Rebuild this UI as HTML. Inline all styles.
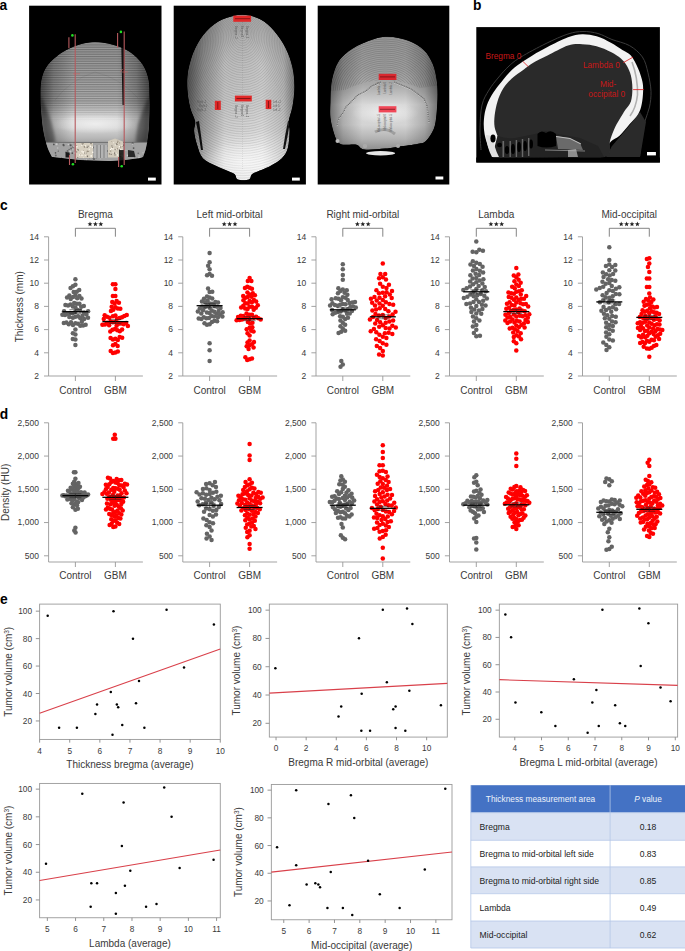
<!DOCTYPE html>
<html><head><meta charset="utf-8"><style>
html,body{margin:0;padding:0;background:#fff;overflow:hidden;}
svg{display:block;}
svg text{font-family:"Liberation Sans",sans-serif;}
</style></head><body>
<svg width="685" height="951" viewBox="0 0 685 951">
<defs>
<linearGradient id="a1v" x1="0" y1="0" x2="0" y2="1">
 <stop offset="0" stop-color="#8e8e8e"/><stop offset="0.3" stop-color="#9c9c9c"/><stop offset="0.5" stop-color="#aaaaaa"/>
 <stop offset="0.58" stop-color="#c4c4c4"/><stop offset="0.64" stop-color="#dcdcdc"/><stop offset="0.72" stop-color="#d6d6d6"/>
 <stop offset="0.8" stop-color="#bababa"/><stop offset="0.86" stop-color="#a0a0a0"/><stop offset="1" stop-color="#909090"/>
</linearGradient>
<linearGradient id="striFade" x1="0" y1="0" x2="0" y2="1">
 <stop offset="0" stop-color="#fff"/><stop offset="0.75" stop-color="#fff"/><stop offset="1" stop-color="#000"/>
</linearGradient>
<mask id="mStri"><rect x="38" y="40" width="114" height="82" fill="url(#striFade)"/></mask>
<linearGradient id="sideDark" x1="0" y1="0" x2="1" y2="0">
 <stop offset="0" stop-color="#000" stop-opacity="0.55"/><stop offset="0.12" stop-color="#000" stop-opacity="0.22"/>
 <stop offset="0.3" stop-color="#000" stop-opacity="0"/><stop offset="0.7" stop-color="#000" stop-opacity="0"/>
 <stop offset="0.88" stop-color="#000" stop-opacity="0.22"/><stop offset="1" stop-color="#000" stop-opacity="0.55"/>
</linearGradient>
<linearGradient id="sideDarkL" x1="0" y1="0" x2="1" y2="0">
 <stop offset="0" stop-color="#000" stop-opacity="0.6"/><stop offset="0.15" stop-color="#000" stop-opacity="0.3"/>
 <stop offset="0.35" stop-color="#000" stop-opacity="0.05"/><stop offset="0.7" stop-color="#000" stop-opacity="0"/>
 <stop offset="0.9" stop-color="#000" stop-opacity="0.12"/><stop offset="1" stop-color="#000" stop-opacity="0.4"/>
</linearGradient>
<linearGradient id="a2v" x1="0" y1="0" x2="0" y2="1">
 <stop offset="0" stop-color="#a8a8a8"/><stop offset="0.3" stop-color="#c4c4c4"/><stop offset="0.55" stop-color="#cecece"/>
 <stop offset="0.7" stop-color="#dadada"/><stop offset="0.8" stop-color="#ececec"/><stop offset="1" stop-color="#f6f6f6"/>
</linearGradient>
<linearGradient id="a3v" x1="0" y1="0" x2="0" y2="1">
 <stop offset="0" stop-color="#959595"/><stop offset="0.3" stop-color="#9e9e9e"/><stop offset="0.42" stop-color="#a8a8a8"/>
 <stop offset="0.5" stop-color="#bcbcbc"/><stop offset="0.6" stop-color="#d8d8d8"/><stop offset="0.78" stop-color="#d4d4d4"/>
 <stop offset="0.9" stop-color="#b4b4b4"/><stop offset="1" stop-color="#8e8e8e"/>
</linearGradient>
<radialGradient id="glow" cx="0.5" cy="0.5" r="0.5">
 <stop offset="0" stop-color="#fff" stop-opacity="0.55"/><stop offset="1" stop-color="#fff" stop-opacity="0"/>
</radialGradient>
<pattern id="stri" width="4" height="1.75" patternUnits="userSpaceOnUse">
 <rect width="4" height="0.7" fill="#000" fill-opacity="0.28"/><rect y="0.9" width="4" height="0.5" fill="#fff" fill-opacity="0.12"/>
</pattern>
<filter id="bl05" x="-20%" y="-20%" width="140%" height="140%"><feGaussianBlur stdDeviation="0.35"/></filter>
<filter id="bl1" x="-20%" y="-20%" width="140%" height="140%"><feGaussianBlur stdDeviation="0.6"/></filter>
<filter id="bl2" x="-20%" y="-20%" width="140%" height="140%"><feGaussianBlur stdDeviation="1.5"/></filter>
<filter id="bl4" x="-30%" y="-30%" width="160%" height="160%"><feGaussianBlur stdDeviation="4"/></filter>
<clipPath id="ca1"><path d="M52.0,157.0C51.4,155.8 49.6,152.7 48.5,150.0C47.4,147.3 46.5,144.7 45.5,141.0C44.5,137.3 43.5,132.8 42.8,128.0C42.1,123.2 41.6,117.1 41.2,112.0C40.8,106.9 40.6,102.7 40.6,97.4C40.6,92.1 40.4,85.4 41.5,80.1C42.6,74.8 44.1,70.1 47.5,65.5C50.9,60.9 56.9,55.9 62.0,52.5C67.1,49.1 72.6,46.8 78.0,45.0C83.4,43.2 88.8,42.0 94.5,41.9C100.2,41.8 106.2,42.9 112.0,44.5C117.8,46.1 124.1,48.1 129.2,51.5C134.3,54.9 139.5,59.9 142.7,64.7C145.9,69.5 147.4,74.6 148.5,80.1C149.6,85.5 149.2,92.1 149.4,97.4C149.6,102.7 149.6,107.1 149.5,112.0C149.4,116.9 149.3,122.3 149.0,127.0C148.7,131.7 148.1,136.2 147.5,140.0C146.9,143.8 146.2,147.2 145.5,150.0C144.8,152.8 143.4,155.8 143.0,157.0L140,158 L125,160 L110,161 L95,160.5 L80,160 L62,158 L53,157Z"/></clipPath><clipPath id="ca2"><path d="M242.4,14.7C248.8,14.7 255.4,16.8 260.7,19.5C266.0,22.2 270.0,26.2 274.2,31.0C278.4,35.8 282.8,42.3 285.8,48.4C288.9,54.5 291.1,61.3 292.5,67.7C293.9,74.1 294.4,80.5 294.4,86.9C294.4,93.3 293.5,100.4 292.5,106.2C291.5,112.0 289.1,117.4 288.6,121.6C288.1,125.8 289.8,126.7 289.6,131.2C289.5,135.7 289.0,144.1 287.7,148.6C286.4,153.1 284.8,155.3 281.9,158.2C279.0,161.1 275.1,163.3 270.3,165.9C265.5,168.5 256.5,171.3 253.0,173.6C249.5,175.8 251.7,178.4 249.1,179.4C246.5,180.4 240.2,180.4 237.6,179.4C235.0,178.4 237.2,175.8 233.7,173.6C230.2,171.3 221.5,168.5 216.4,165.9C211.3,163.3 206.1,161.7 202.9,158.2C199.7,154.7 198.6,149.2 197.1,144.7C195.6,140.2 194.5,135.0 194.2,131.2C193.9,127.3 195.8,125.4 195.2,121.6C194.6,117.8 191.7,113.5 190.4,108.1C189.1,102.6 187.8,95.3 187.5,88.9C187.2,82.5 187.2,76.3 188.5,69.6C189.8,62.8 192.1,54.8 195.2,48.4C198.2,42.0 202.3,35.8 206.8,31.0C211.3,26.2 216.3,22.2 222.2,19.5C228.1,16.8 236.0,14.7 242.4,14.7Z"/></clipPath><clipPath id="ca3"><path d="M385.4,36.8C393.1,36.3 402.2,38.5 408.6,40.7C415.0,43.0 420.0,46.4 424.0,50.3C428.0,54.1 430.5,59.0 432.6,63.8C434.7,68.6 435.7,74.1 436.5,79.2C437.3,84.3 437.5,88.8 437.5,94.6C437.5,100.4 437.1,108.1 436.5,113.9C435.9,119.7 435.4,124.8 433.6,129.3C431.8,133.8 428.5,138.5 425.9,140.9C423.3,143.3 422.7,142.8 418.2,143.8C413.7,144.8 404.4,145.9 398.9,146.7C393.4,147.5 391.2,148.1 385.4,148.6C379.6,149.1 369.0,150.2 364.2,149.5C359.4,148.8 360.0,145.5 356.5,144.7C353.0,143.9 346.2,145.3 343.0,144.7C339.8,144.1 338.9,143.2 337.3,140.9C335.7,138.7 334.5,135.0 333.4,131.2C332.3,127.3 331.0,122.6 330.5,117.8C330.0,113.0 330.3,108.1 330.5,102.3C330.7,96.5 330.5,89.2 331.5,83.1C332.5,77.0 334.1,70.5 336.3,65.7C338.6,60.9 340.7,57.9 345.0,54.2C349.3,50.5 355.6,46.5 362.3,43.6C369.0,40.7 377.7,37.3 385.4,36.8Z"/></clipPath><clipPath id="ca3top"><path d="M318,30 H450 V84 L420,88 Q400,80 385,80 Q365,80 345,90 L318,92Z"/></clipPath></defs>
<text x="0" y="209.6" font-size="13.8" font-weight="bold" fill="#000">c</text><text transform="translate(23,306.7) rotate(-90)" font-size="10" fill="#3a3a3a" text-anchor="middle">Thickness (mm)</text><g stroke="#999" stroke-width="0.9" fill="none"><path d="M48.6,236.8V376H142.9"/><path d="M44.0,376.00H48.6"/><path d="M44.0,352.80H48.6"/><path d="M44.0,329.60H48.6"/><path d="M44.0,306.40H48.6"/><path d="M44.0,283.20H48.6"/><path d="M44.0,260.00H48.6"/><path d="M44.0,236.80H48.6"/><path d="M75.4,376v5M115.4,376v5"/></g><g font-size="8.5" fill="#3a3a3a" text-anchor="end"><text x="38.9" y="378.80">2</text><text x="38.9" y="355.60">4</text><text x="38.9" y="332.40">6</text><text x="38.9" y="309.20">8</text><text x="38.9" y="286.00">10</text><text x="38.9" y="262.80">12</text><text x="38.9" y="239.60">14</text></g><g font-size="10" fill="#3a3a3a" text-anchor="middle"><text x="75.4" y="394">Control</text><text x="115.4" y="394">GBM</text></g><text x="95.4" y="217.7" font-size="10" fill="#3a3a3a" text-anchor="middle">Bregma</text><polygon points="90.00,221.60 90.65,223.31 92.47,223.40 91.05,224.54 91.53,226.30 90.00,225.30 88.47,226.30 88.95,224.54 87.53,223.40 89.35,223.31" fill="#222"/><polygon points="95.40,221.60 96.05,223.31 97.87,223.40 96.45,224.54 96.93,226.30 95.40,225.30 93.87,226.30 94.35,224.54 92.93,223.40 94.75,223.31" fill="#222"/><polygon points="100.80,221.60 101.45,223.31 103.27,223.40 101.85,224.54 102.33,226.30 100.80,225.30 99.27,226.30 99.75,224.54 98.33,223.40 100.15,223.31" fill="#222"/><path d="M75.4,236.7V228.3H115.4V236.7" stroke="#666" stroke-width="0.8" fill="none"/><g fill="#646464"><circle cx="75.40" cy="307.42" r="2.25"/><circle cx="75.40" cy="316.78" r="2.25"/><circle cx="72.83" cy="306.54" r="2.25"/><circle cx="77.51" cy="309.89" r="2.25"/><circle cx="76.77" cy="303.87" r="2.25"/><circle cx="75.40" cy="295.19" r="2.25"/><circle cx="79.40" cy="303.75" r="2.25"/><circle cx="75.40" cy="323.37" r="2.25"/><circle cx="72.97" cy="324.95" r="2.25"/><circle cx="72.86" cy="317.85" r="2.25"/><circle cx="75.40" cy="284.79" r="2.25"/><circle cx="78.01" cy="316.37" r="2.25"/><circle cx="73.67" cy="292.06" r="2.25"/><circle cx="74.21" cy="302.94" r="2.25"/><circle cx="76.79" cy="291.65" r="2.25"/><circle cx="75.21" cy="311.90" r="2.25"/><circle cx="70.55" cy="304.49" r="2.25"/><circle cx="78.02" cy="323.76" r="2.25"/><circle cx="71.01" cy="322.17" r="2.25"/><circle cx="80.28" cy="325.86" r="2.25"/><circle cx="80.35" cy="318.28" r="2.25"/><circle cx="72.71" cy="313.17" r="2.25"/><circle cx="75.40" cy="334.52" r="2.25"/><circle cx="73.06" cy="297.09" r="2.25"/><circle cx="80.11" cy="310.55" r="2.25"/><circle cx="70.08" cy="313.02" r="2.25"/><circle cx="75.40" cy="329.60" r="2.25"/><circle cx="72.92" cy="286.14" r="2.25"/><circle cx="68.76" cy="324.31" r="2.25"/><circle cx="77.19" cy="298.23" r="2.25"/><circle cx="79.41" cy="296.00" r="2.25"/><circle cx="82.43" cy="315.73" r="2.25"/><circle cx="81.22" cy="306.74" r="2.25"/><circle cx="69.32" cy="317.00" r="2.25"/><circle cx="72.89" cy="333.30" r="2.25"/><circle cx="79.18" cy="289.95" r="2.25"/><circle cx="68.02" cy="305.62" r="2.25"/><circle cx="67.49" cy="313.67" r="2.25"/><circle cx="75.40" cy="339.52" r="2.25"/><circle cx="72.79" cy="339.08" r="2.25"/><circle cx="70.58" cy="288.05" r="2.25"/><circle cx="84.05" cy="312.46" r="2.25"/><circle cx="65.02" cy="315.09" r="2.25"/><circle cx="81.85" cy="321.70" r="2.25"/><circle cx="70.72" cy="298.98" r="2.25"/><circle cx="69.37" cy="295.41" r="2.25"/><circle cx="66.43" cy="322.39" r="2.25"/><circle cx="75.40" cy="279.26" r="2.25"/><circle cx="83.82" cy="306.09" r="2.25"/><circle cx="86.36" cy="314.43" r="2.25"/><circle cx="84.13" cy="318.90" r="2.25"/><circle cx="62.40" cy="314.72" r="2.25"/><circle cx="75.40" cy="344.91" r="2.25"/><circle cx="81.48" cy="298.55" r="2.25"/><circle cx="83.05" cy="325.40" r="2.25"/><circle cx="85.64" cy="324.64" r="2.25"/><circle cx="88.11" cy="311.32" r="2.25"/><circle cx="88.00" cy="317.69" r="2.25"/><circle cx="63.83" cy="323.02" r="2.25"/><circle cx="67.07" cy="297.44" r="2.25"/><circle cx="65.41" cy="305.08" r="2.25"/><circle cx="64.06" cy="311.21" r="2.25"/></g><g fill="#ff0000"><circle cx="115.40" cy="322.02" r="2.25"/><circle cx="112.89" cy="322.32" r="2.25"/><circle cx="116.58" cy="325.69" r="2.25"/><circle cx="115.40" cy="315.55" r="2.25"/><circle cx="115.40" cy="352.41" r="2.25"/><circle cx="115.40" cy="344.05" r="2.25"/><circle cx="114.99" cy="328.91" r="2.25"/><circle cx="112.94" cy="316.35" r="2.25"/><circle cx="117.03" cy="318.72" r="2.25"/><circle cx="113.02" cy="345.37" r="2.25"/><circle cx="117.35" cy="330.30" r="2.25"/><circle cx="117.65" cy="345.90" r="2.25"/><circle cx="118.77" cy="323.64" r="2.25"/><circle cx="115.40" cy="295.96" r="2.25"/><circle cx="119.51" cy="318.07" r="2.25"/><circle cx="110.41" cy="321.64" r="2.25"/><circle cx="121.28" cy="323.48" r="2.25"/><circle cx="115.40" cy="307.36" r="2.25"/><circle cx="109.13" cy="325.22" r="2.25"/><circle cx="115.40" cy="284.36" r="2.25"/><circle cx="113.34" cy="309.74" r="2.25"/><circle cx="109.45" cy="317.80" r="2.25"/><circle cx="112.89" cy="295.96" r="2.25"/><circle cx="117.80" cy="308.59" r="2.25"/><circle cx="114.61" cy="303.41" r="2.25"/><circle cx="115.40" cy="338.80" r="2.25"/><circle cx="116.64" cy="300.96" r="2.25"/><circle cx="123.76" cy="324.20" r="2.25"/><circle cx="112.52" cy="329.67" r="2.25"/><circle cx="112.91" cy="339.41" r="2.25"/><circle cx="110.93" cy="310.93" r="2.25"/><circle cx="117.82" cy="339.90" r="2.25"/><circle cx="121.98" cy="317.34" r="2.25"/><circle cx="119.69" cy="337.10" r="2.25"/><circle cx="107.01" cy="316.79" r="2.25"/><circle cx="115.40" cy="289.00" r="2.25"/><circle cx="112.92" cy="353.04" r="2.25"/><circle cx="117.86" cy="351.60" r="2.25"/><circle cx="107.14" cy="322.69" r="2.25"/><circle cx="124.34" cy="315.89" r="2.25"/><circle cx="119.80" cy="331.25" r="2.25"/><circle cx="110.70" cy="351.06" r="2.25"/><circle cx="104.68" cy="315.22" r="2.25"/><circle cx="112.27" cy="301.91" r="2.25"/><circle cx="110.57" cy="337.93" r="2.25"/><circle cx="104.91" cy="324.62" r="2.25"/><circle cx="122.18" cy="337.65" r="2.25"/><circle cx="118.91" cy="302.76" r="2.25"/><circle cx="120.31" cy="308.83" r="2.25"/><circle cx="112.89" cy="284.36" r="2.25"/><circle cx="126.16" cy="323.01" r="2.25"/><circle cx="102.40" cy="324.79" r="2.25"/><circle cx="111.67" cy="306.63" r="2.25"/><circle cx="110.26" cy="331.51" r="2.25"/><circle cx="103.78" cy="319.11" r="2.25"/><circle cx="126.78" cy="314.94" r="2.25"/><circle cx="122.10" cy="329.57" r="2.25"/><circle cx="127.86" cy="326.08" r="2.25"/></g><line x1="62.4" y1="311.7" x2="88.4" y2="311.7" stroke="#000" stroke-width="1.3"/><path d="M69.4,309.7H81.4M69.4,313.7H81.4M75.4,309.7V313.7" stroke="#222" stroke-width="0.7" fill="none" opacity="0.8"/><line x1="102.4" y1="321.6" x2="128.4" y2="321.6" stroke="#000" stroke-width="1.3"/><path d="M109.4,319.6H121.4M109.4,323.6H121.4M115.4,319.6V323.6" stroke="#222" stroke-width="0.7" fill="none" opacity="0.8"/><g stroke="#999" stroke-width="0.9" fill="none"><path d="M182.8,236.8V376H277.1"/><path d="M178.20000000000002,376.00H182.8"/><path d="M178.20000000000002,352.80H182.8"/><path d="M178.20000000000002,329.60H182.8"/><path d="M178.20000000000002,306.40H182.8"/><path d="M178.20000000000002,283.20H182.8"/><path d="M178.20000000000002,260.00H182.8"/><path d="M178.20000000000002,236.80H182.8"/><path d="M209.60000000000002,376v5M249.60000000000002,376v5"/></g><g font-size="8.5" fill="#3a3a3a" text-anchor="end"><text x="173.1" y="378.80">2</text><text x="173.1" y="355.60">4</text><text x="173.1" y="332.40">6</text><text x="173.1" y="309.20">8</text><text x="173.1" y="286.00">10</text><text x="173.1" y="262.80">12</text><text x="173.1" y="239.60">14</text></g><g font-size="10" fill="#3a3a3a" text-anchor="middle"><text x="209.6" y="394">Control</text><text x="249.6" y="394">GBM</text></g><text x="229.6" y="217.7" font-size="10" fill="#3a3a3a" text-anchor="middle">Left mid-orbital</text><polygon points="224.20,221.60 224.85,223.31 226.67,223.40 225.25,224.54 225.73,226.30 224.20,225.30 222.67,226.30 223.15,224.54 221.73,223.40 223.55,223.31" fill="#222"/><polygon points="229.60,221.60 230.25,223.31 232.07,223.40 230.65,224.54 231.13,226.30 229.60,225.30 228.07,226.30 228.55,224.54 227.13,223.40 228.95,223.31" fill="#222"/><polygon points="235.00,221.60 235.65,223.31 237.47,223.40 236.05,224.54 236.53,226.30 235.00,225.30 233.47,226.30 233.95,224.54 232.53,223.40 234.35,223.31" fill="#222"/><path d="M209.6,236.7V228.3H249.6V236.7" stroke="#666" stroke-width="0.8" fill="none"/><g fill="#646464"><circle cx="209.60" cy="312.97" r="2.25"/><circle cx="209.60" cy="269.28" r="2.25"/><circle cx="206.95" cy="312.46" r="2.25"/><circle cx="209.60" cy="350.36" r="2.25"/><circle cx="208.14" cy="265.80" r="2.25"/><circle cx="209.60" cy="324.14" r="2.25"/><circle cx="211.39" cy="316.05" r="2.25"/><circle cx="209.60" cy="303.48" r="2.25"/><circle cx="209.03" cy="317.99" r="2.25"/><circle cx="207.29" cy="305.54" r="2.25"/><circle cx="211.72" cy="310.44" r="2.25"/><circle cx="212.26" cy="303.74" r="2.25"/><circle cx="207.61" cy="300.71" r="2.25"/><circle cx="209.60" cy="273.95" r="2.25"/><circle cx="209.60" cy="291.94" r="2.25"/><circle cx="214.53" cy="305.92" r="2.25"/><circle cx="204.82" cy="307.14" r="2.25"/><circle cx="209.60" cy="307.71" r="2.25"/><circle cx="214.23" cy="311.83" r="2.25"/><circle cx="209.60" cy="361.04" r="2.25"/><circle cx="206.97" cy="324.82" r="2.25"/><circle cx="203.09" cy="310.30" r="2.25"/><circle cx="209.60" cy="343.17" r="2.25"/><circle cx="207.08" cy="275.32" r="2.25"/><circle cx="209.60" cy="253.04" r="2.25"/><circle cx="216.59" cy="313.75" r="2.25"/><circle cx="211.93" cy="322.11" r="2.25"/><circle cx="205.21" cy="302.55" r="2.25"/><circle cx="202.07" cy="306.45" r="2.25"/><circle cx="206.37" cy="318.25" r="2.25"/><circle cx="214.03" cy="316.62" r="2.25"/><circle cx="217.13" cy="306.80" r="2.25"/><circle cx="201.30" cy="313.39" r="2.25"/><circle cx="203.79" cy="317.22" r="2.25"/><circle cx="209.60" cy="297.51" r="2.25"/><circle cx="211.99" cy="275.79" r="2.25"/><circle cx="218.58" cy="310.97" r="2.25"/><circle cx="212.21" cy="298.38" r="2.25"/><circle cx="199.77" cy="308.56" r="2.25"/><circle cx="220.03" cy="314.47" r="2.25"/><circle cx="208.07" cy="288.54" r="2.25"/><circle cx="217.94" cy="317.34" r="2.25"/><circle cx="215.41" cy="302.00" r="2.25"/><circle cx="214.46" cy="320.81" r="2.25"/><circle cx="201.37" cy="318.98" r="2.25"/><circle cx="212.26" cy="291.63" r="2.25"/><circle cx="197.81" cy="311.39" r="2.25"/><circle cx="218.05" cy="302.60" r="2.25"/><circle cx="198.72" cy="318.57" r="2.25"/><circle cx="220.50" cy="308.08" r="2.25"/><circle cx="209.60" cy="262.32" r="2.25"/><circle cx="222.39" cy="316.39" r="2.25"/><circle cx="203.98" cy="298.86" r="2.25"/><circle cx="207.00" cy="296.58" r="2.25"/><circle cx="201.95" cy="301.55" r="2.25"/><circle cx="204.49" cy="323.30" r="2.25"/><circle cx="217.11" cy="321.30" r="2.25"/><circle cx="222.60" cy="312.24" r="2.25"/></g><g fill="#ff0000"><circle cx="249.60" cy="319.00" r="2.25"/><circle cx="249.60" cy="294.40" r="2.25"/><circle cx="249.60" cy="335.38" r="2.25"/><circle cx="249.60" cy="359.30" r="2.25"/><circle cx="249.60" cy="314.69" r="2.25"/><circle cx="247.40" cy="317.29" r="2.25"/><circle cx="247.53" cy="333.24" r="2.25"/><circle cx="252.01" cy="314.87" r="2.25"/><circle cx="253.76" cy="317.75" r="2.25"/><circle cx="245.09" cy="318.55" r="2.25"/><circle cx="249.60" cy="300.89" r="2.25"/><circle cx="249.60" cy="306.71" r="2.25"/><circle cx="247.21" cy="359.88" r="2.25"/><circle cx="247.73" cy="303.52" r="2.25"/><circle cx="247.74" cy="297.06" r="2.25"/><circle cx="249.60" cy="327.71" r="2.25"/><circle cx="256.11" cy="316.80" r="2.25"/><circle cx="251.88" cy="302.29" r="2.25"/><circle cx="252.02" cy="306.84" r="2.25"/><circle cx="247.56" cy="308.96" r="2.25"/><circle cx="243.20" cy="315.95" r="2.25"/><circle cx="247.43" cy="292.57" r="2.25"/><circle cx="249.60" cy="345.22" r="2.25"/><circle cx="249.60" cy="340.41" r="2.25"/><circle cx="247.86" cy="321.89" r="2.25"/><circle cx="240.79" cy="315.78" r="2.25"/><circle cx="251.98" cy="358.54" r="2.25"/><circle cx="247.49" cy="342.43" r="2.25"/><circle cx="249.60" cy="287.66" r="2.25"/><circle cx="246.53" cy="313.40" r="2.25"/><circle cx="242.02" cy="319.58" r="2.25"/><circle cx="251.96" cy="344.29" r="2.25"/><circle cx="258.37" cy="318.30" r="2.25"/><circle cx="253.72" cy="309.79" r="2.25"/><circle cx="251.21" cy="330.81" r="2.25"/><circle cx="246.68" cy="346.36" r="2.25"/><circle cx="247.24" cy="286.76" r="2.25"/><circle cx="251.57" cy="296.83" r="2.25"/><circle cx="245.16" cy="308.47" r="2.25"/><circle cx="249.60" cy="278.10" r="2.25"/><circle cx="246.67" cy="329.34" r="2.25"/><circle cx="252.80" cy="293.24" r="2.25"/><circle cx="251.94" cy="288.71" r="2.25"/><circle cx="245.36" cy="297.78" r="2.25"/><circle cx="253.90" cy="300.01" r="2.25"/><circle cx="244.92" cy="287.91" r="2.25"/><circle cx="254.88" cy="295.36" r="2.25"/><circle cx="239.62" cy="320.09" r="2.25"/><circle cx="245.31" cy="303.34" r="2.25"/><circle cx="250.07" cy="323.57" r="2.25"/><circle cx="245.37" cy="357.18" r="2.25"/><circle cx="260.70" cy="319.38" r="2.25"/><circle cx="255.87" cy="307.87" r="2.25"/><circle cx="247.80" cy="280.88" r="2.25"/><circle cx="243.32" cy="305.78" r="2.25"/><circle cx="243.41" cy="300.24" r="2.25"/><circle cx="256.14" cy="301.58" r="2.25"/><circle cx="257.77" cy="305.30" r="2.25"/><circle cx="248.59" cy="349.00" r="2.25"/><circle cx="241.14" cy="307.59" r="2.25"/><circle cx="253.57" cy="347.39" r="2.25"/><circle cx="251.40" cy="280.88" r="2.25"/><circle cx="252.44" cy="322.71" r="2.25"/><circle cx="238.06" cy="316.90" r="2.25"/><circle cx="253.58" cy="331.61" r="2.25"/><circle cx="236.60" cy="320.21" r="2.25"/><circle cx="243.16" cy="296.04" r="2.25"/><circle cx="253.98" cy="342.03" r="2.25"/><circle cx="252.33" cy="327.13" r="2.25"/></g><line x1="196.6" y1="305.7" x2="222.6" y2="305.7" stroke="#000" stroke-width="1.3"/><path d="M203.6,303.7H215.6M203.6,307.7H215.6M209.6,303.7V307.7" stroke="#222" stroke-width="0.7" fill="none" opacity="0.8"/><line x1="236.6" y1="318.7" x2="262.6" y2="318.7" stroke="#000" stroke-width="1.3"/><path d="M243.6,316.7H255.6M243.6,320.7H255.6M249.6,316.7V320.7" stroke="#222" stroke-width="0.7" fill="none" opacity="0.8"/><g stroke="#999" stroke-width="0.9" fill="none"><path d="M316.0,236.8V376H410.3"/><path d="M311.4,376.00H316.0"/><path d="M311.4,352.80H316.0"/><path d="M311.4,329.60H316.0"/><path d="M311.4,306.40H316.0"/><path d="M311.4,283.20H316.0"/><path d="M311.4,260.00H316.0"/><path d="M311.4,236.80H316.0"/><path d="M342.8,376v5M382.8,376v5"/></g><g font-size="8.5" fill="#3a3a3a" text-anchor="end"><text x="306.3" y="378.80">2</text><text x="306.3" y="355.60">4</text><text x="306.3" y="332.40">6</text><text x="306.3" y="309.20">8</text><text x="306.3" y="286.00">10</text><text x="306.3" y="262.80">12</text><text x="306.3" y="239.60">14</text></g><g font-size="10" fill="#3a3a3a" text-anchor="middle"><text x="342.8" y="394">Control</text><text x="382.8" y="394">GBM</text></g><text x="362.8" y="217.7" font-size="10" fill="#3a3a3a" text-anchor="middle">Right mid-orbital</text><polygon points="357.40,221.60 358.05,223.31 359.87,223.40 358.45,224.54 358.93,226.30 357.40,225.30 355.87,226.30 356.35,224.54 354.93,223.40 356.75,223.31" fill="#222"/><polygon points="362.80,221.60 363.45,223.31 365.27,223.40 363.85,224.54 364.33,226.30 362.80,225.30 361.27,226.30 361.75,224.54 360.33,223.40 362.15,223.31" fill="#222"/><polygon points="368.20,221.60 368.85,223.31 370.67,223.40 369.25,224.54 369.73,226.30 368.20,225.30 366.67,226.30 367.15,224.54 365.73,223.40 367.55,223.31" fill="#222"/><path d="M342.8,236.7V228.3H382.8V236.7" stroke="#666" stroke-width="0.8" fill="none"/><g fill="#646464"><circle cx="342.80" cy="303.89" r="2.25"/><circle cx="342.80" cy="279.72" r="2.25"/><circle cx="342.80" cy="328.52" r="2.25"/><circle cx="342.80" cy="309.16" r="2.25"/><circle cx="340.61" cy="311.61" r="2.25"/><circle cx="342.80" cy="297.25" r="2.25"/><circle cx="341.19" cy="331.86" r="2.25"/><circle cx="342.80" cy="289.45" r="2.25"/><circle cx="340.50" cy="326.31" r="2.25"/><circle cx="345.13" cy="330.66" r="2.25"/><circle cx="340.13" cy="304.69" r="2.25"/><circle cx="340.31" cy="291.11" r="2.25"/><circle cx="345.35" cy="310.60" r="2.25"/><circle cx="340.96" cy="300.32" r="2.25"/><circle cx="344.54" cy="292.64" r="2.25"/><circle cx="345.51" cy="304.21" r="2.25"/><circle cx="345.50" cy="297.68" r="2.25"/><circle cx="346.75" cy="290.22" r="2.25"/><circle cx="342.80" cy="316.87" r="2.25"/><circle cx="337.91" cy="312.05" r="2.25"/><circle cx="347.03" cy="313.86" r="2.25"/><circle cx="342.80" cy="264.29" r="2.25"/><circle cx="342.80" cy="269.28" r="2.25"/><circle cx="347.93" cy="309.30" r="2.25"/><circle cx="337.53" cy="305.86" r="2.25"/><circle cx="342.80" cy="322.64" r="2.25"/><circle cx="340.12" cy="316.17" r="2.25"/><circle cx="342.80" cy="275.08" r="2.25"/><circle cx="349.73" cy="313.42" r="2.25"/><circle cx="335.23" cy="312.76" r="2.25"/><circle cx="338.44" cy="298.80" r="2.25"/><circle cx="347.72" cy="300.08" r="2.25"/><circle cx="335.74" cy="298.35" r="2.25"/><circle cx="349.63" cy="303.03" r="2.25"/><circle cx="345.13" cy="324.77" r="2.25"/><circle cx="334.86" cy="305.06" r="2.25"/><circle cx="337.96" cy="293.19" r="2.25"/><circle cx="351.93" cy="310.96" r="2.25"/><circle cx="352.31" cy="302.38" r="2.25"/><circle cx="332.67" cy="314.17" r="2.25"/><circle cx="332.40" cy="303.31" r="2.25"/><circle cx="342.80" cy="364.40" r="2.25"/><circle cx="332.12" cy="310.09" r="2.25"/><circle cx="347.37" cy="294.65" r="2.25"/><circle cx="350.43" cy="307.01" r="2.25"/><circle cx="345.14" cy="318.98" r="2.25"/><circle cx="341.31" cy="360.92" r="2.25"/><circle cx="347.96" cy="317.78" r="2.25"/><circle cx="338.58" cy="333.04" r="2.25"/><circle cx="338.35" cy="288.22" r="2.25"/><circle cx="340.55" cy="366.72" r="2.25"/><circle cx="353.13" cy="306.61" r="2.25"/><circle cx="340.46" cy="320.51" r="2.25"/><circle cx="330.08" cy="305.47" r="2.25"/><circle cx="355.01" cy="301.93" r="2.25"/><circle cx="355.80" cy="307.39" r="2.25"/><circle cx="331.58" cy="299.34" r="2.25"/></g><g fill="#ff0000"><circle cx="382.80" cy="277.18" r="2.25"/><circle cx="382.80" cy="336.65" r="2.25"/><circle cx="382.80" cy="292.85" r="2.25"/><circle cx="382.80" cy="355.50" r="2.25"/><circle cx="379.40" cy="334.75" r="2.25"/><circle cx="380.42" cy="273.92" r="2.25"/><circle cx="382.80" cy="325.36" r="2.25"/><circle cx="382.80" cy="305.78" r="2.25"/><circle cx="379.54" cy="303.60" r="2.25"/><circle cx="378.99" cy="293.27" r="2.25"/><circle cx="382.80" cy="299.89" r="2.25"/><circle cx="380.17" cy="322.34" r="2.25"/><circle cx="379.11" cy="278.28" r="2.25"/><circle cx="385.70" cy="322.64" r="2.25"/><circle cx="379.09" cy="354.48" r="2.25"/><circle cx="379.72" cy="308.24" r="2.25"/><circle cx="377.05" cy="319.94" r="2.25"/><circle cx="385.90" cy="302.33" r="2.25"/><circle cx="386.40" cy="338.07" r="2.25"/><circle cx="385.23" cy="308.99" r="2.25"/><circle cx="382.80" cy="350.99" r="2.25"/><circle cx="382.80" cy="315.07" r="2.25"/><circle cx="379.00" cy="315.53" r="2.25"/><circle cx="385.95" cy="279.54" r="2.25"/><circle cx="388.44" cy="311.25" r="2.25"/><circle cx="382.80" cy="263.48" r="2.25"/><circle cx="389.37" cy="321.50" r="2.25"/><circle cx="385.10" cy="296.17" r="2.25"/><circle cx="380.06" cy="348.09" r="2.25"/><circle cx="386.58" cy="292.17" r="2.25"/><circle cx="385.61" cy="317.90" r="2.25"/><circle cx="376.09" cy="309.58" r="2.25"/><circle cx="382.80" cy="286.68" r="2.25"/><circle cx="375.48" cy="313.90" r="2.25"/><circle cx="376.41" cy="290.20" r="2.25"/><circle cx="386.45" cy="287.92" r="2.25"/><circle cx="389.81" cy="294.39" r="2.25"/><circle cx="382.80" cy="343.27" r="2.25"/><circle cx="379.22" cy="326.84" r="2.25"/><circle cx="379.63" cy="340.95" r="2.25"/><circle cx="389.20" cy="316.46" r="2.25"/><circle cx="384.86" cy="333.14" r="2.25"/><circle cx="385.66" cy="328.12" r="2.25"/><circle cx="385.18" cy="273.92" r="2.25"/><circle cx="392.01" cy="290.98" r="2.25"/><circle cx="372.99" cy="317.06" r="2.25"/><circle cx="375.24" cy="323.60" r="2.25"/><circle cx="386.38" cy="344.73" r="2.25"/><circle cx="379.55" cy="297.69" r="2.25"/><circle cx="392.58" cy="314.52" r="2.25"/><circle cx="389.47" cy="328.51" r="2.25"/><circle cx="380.09" cy="283.75" r="2.25"/><circle cx="388.95" cy="284.77" r="2.25"/><circle cx="376.30" cy="332.30" r="2.25"/><circle cx="376.71" cy="300.49" r="2.25"/><circle cx="376.12" cy="339.29" r="2.25"/><circle cx="373.92" cy="329.04" r="2.25"/><circle cx="388.66" cy="332.72" r="2.25"/><circle cx="392.34" cy="333.88" r="2.25"/><circle cx="372.38" cy="310.59" r="2.25"/><circle cx="393.11" cy="320.61" r="2.25"/><circle cx="374.47" cy="297.12" r="2.25"/><circle cx="389.41" cy="303.97" r="2.25"/><circle cx="391.67" cy="298.03" r="2.25"/><circle cx="374.98" cy="305.60" r="2.25"/><circle cx="376.80" cy="345.91" r="2.25"/><circle cx="395.50" cy="311.83" r="2.25"/><circle cx="392.35" cy="325.76" r="2.25"/><circle cx="393.17" cy="304.78" r="2.25"/><circle cx="370.93" cy="298.71" r="2.25"/><circle cx="372.14" cy="302.81" r="2.25"/><circle cx="369.90" cy="319.52" r="2.25"/><circle cx="370.72" cy="331.32" r="2.25"/><circle cx="395.80" cy="327.55" r="2.25"/></g><line x1="329.8" y1="309.8" x2="355.8" y2="309.8" stroke="#000" stroke-width="1.3"/><path d="M336.8,307.8H348.8M336.8,311.8H348.8M342.8,307.8V311.8" stroke="#222" stroke-width="0.7" fill="none" opacity="0.8"/><line x1="369.8" y1="316.8" x2="395.8" y2="316.8" stroke="#000" stroke-width="1.3"/><path d="M376.8,314.8H388.8M376.8,318.8H388.8M382.8,314.8V318.8" stroke="#222" stroke-width="0.7" fill="none" opacity="0.8"/><g stroke="#999" stroke-width="0.9" fill="none"><path d="M449.5,236.8V376H543.8"/><path d="M444.9,376.00H449.5"/><path d="M444.9,352.80H449.5"/><path d="M444.9,329.60H449.5"/><path d="M444.9,306.40H449.5"/><path d="M444.9,283.20H449.5"/><path d="M444.9,260.00H449.5"/><path d="M444.9,236.80H449.5"/><path d="M476.3,376v5M516.3,376v5"/></g><g font-size="8.5" fill="#3a3a3a" text-anchor="end"><text x="439.8" y="378.80">2</text><text x="439.8" y="355.60">4</text><text x="439.8" y="332.40">6</text><text x="439.8" y="309.20">8</text><text x="439.8" y="286.00">10</text><text x="439.8" y="262.80">12</text><text x="439.8" y="239.60">14</text></g><g font-size="10" fill="#3a3a3a" text-anchor="middle"><text x="476.3" y="394">Control</text><text x="516.3" y="394">GBM</text></g><text x="496.3" y="217.7" font-size="10" fill="#3a3a3a" text-anchor="middle">Lambda</text><polygon points="490.90,221.60 491.55,223.31 493.37,223.40 491.95,224.54 492.43,226.30 490.90,225.30 489.37,226.30 489.85,224.54 488.43,223.40 490.25,223.31" fill="#222"/><polygon points="496.30,221.60 496.95,223.31 498.77,223.40 497.35,224.54 497.83,226.30 496.30,225.30 494.77,226.30 495.25,224.54 493.83,223.40 495.65,223.31" fill="#222"/><polygon points="501.70,221.60 502.35,223.31 504.17,223.40 502.75,224.54 503.23,226.30 501.70,225.30 500.17,226.30 500.65,224.54 499.23,223.40 501.05,223.31" fill="#222"/><path d="M476.3,236.7V228.3H516.3V236.7" stroke="#666" stroke-width="0.8" fill="none"/><g fill="#646464"><circle cx="476.30" cy="299.28" r="2.25"/><circle cx="473.49" cy="301.98" r="2.25"/><circle cx="476.30" cy="325.09" r="2.25"/><circle cx="476.30" cy="241.44" r="2.25"/><circle cx="476.30" cy="306.05" r="2.25"/><circle cx="476.30" cy="262.72" r="2.25"/><circle cx="476.30" cy="277.91" r="2.25"/><circle cx="476.30" cy="313.44" r="2.25"/><circle cx="479.01" cy="302.11" r="2.25"/><circle cx="473.73" cy="296.29" r="2.25"/><circle cx="476.30" cy="252.19" r="2.25"/><circle cx="476.30" cy="282.16" r="2.25"/><circle cx="477.30" cy="295.23" r="2.25"/><circle cx="473.93" cy="265.92" r="2.25"/><circle cx="480.85" cy="294.09" r="2.25"/><circle cx="476.30" cy="289.10" r="2.25"/><circle cx="473.11" cy="284.27" r="2.25"/><circle cx="476.30" cy="329.85" r="2.25"/><circle cx="479.69" cy="280.52" r="2.25"/><circle cx="478.69" cy="285.93" r="2.25"/><circle cx="481.94" cy="304.65" r="2.25"/><circle cx="472.63" cy="251.77" r="2.25"/><circle cx="470.41" cy="294.47" r="2.25"/><circle cx="482.38" cy="283.38" r="2.25"/><circle cx="472.84" cy="326.54" r="2.25"/><circle cx="476.30" cy="336.27" r="2.25"/><circle cx="484.28" cy="295.64" r="2.25"/><circle cx="470.03" cy="303.43" r="2.25"/><circle cx="474.32" cy="309.56" r="2.25"/><circle cx="473.54" cy="291.87" r="2.25"/><circle cx="473.88" cy="332.99" r="2.25"/><circle cx="472.65" cy="278.51" r="2.25"/><circle cx="467.39" cy="296.87" r="2.25"/><circle cx="476.40" cy="269.02" r="2.25"/><circle cx="476.30" cy="318.20" r="2.25"/><circle cx="478.96" cy="310.55" r="2.25"/><circle cx="475.59" cy="273.82" r="2.25"/><circle cx="472.92" cy="270.41" r="2.25"/><circle cx="483.20" cy="300.74" r="2.25"/><circle cx="479.15" cy="274.94" r="2.25"/><circle cx="482.36" cy="290.29" r="2.25"/><circle cx="470.05" cy="286.59" r="2.25"/><circle cx="472.98" cy="316.38" r="2.25"/><circle cx="484.74" cy="287.11" r="2.25"/><circle cx="486.87" cy="298.61" r="2.25"/><circle cx="479.80" cy="270.64" r="2.25"/><circle cx="470.37" cy="275.23" r="2.25"/><circle cx="466.63" cy="288.16" r="2.25"/><circle cx="485.54" cy="305.57" r="2.25"/><circle cx="481.24" cy="313.82" r="2.25"/><circle cx="479.83" cy="263.94" r="2.25"/><circle cx="470.98" cy="307.79" r="2.25"/><circle cx="479.32" cy="249.79" r="2.25"/><circle cx="473.94" cy="321.41" r="2.25"/><circle cx="472.84" cy="261.27" r="2.25"/><circle cx="470.45" cy="264.44" r="2.25"/><circle cx="471.35" cy="312.05" r="2.25"/><circle cx="482.93" cy="250.67" r="2.25"/><circle cx="479.44" cy="320.39" r="2.25"/><circle cx="482.38" cy="308.99" r="2.25"/><circle cx="463.84" cy="298.01" r="2.25"/><circle cx="483.10" cy="272.50" r="2.25"/><circle cx="479.95" cy="335.66" r="2.25"/><circle cx="470.16" cy="281.59" r="2.25"/><circle cx="485.95" cy="291.26" r="2.25"/><circle cx="466.37" cy="304.04" r="2.25"/><circle cx="463.30" cy="289.97" r="2.25"/><circle cx="483.38" cy="279.37" r="2.25"/><circle cx="482.56" cy="266.75" r="2.25"/></g><g fill="#ff0000"><circle cx="516.30" cy="325.62" r="2.25"/><circle cx="516.30" cy="316.51" r="2.25"/><circle cx="514.99" cy="329.29" r="2.25"/><circle cx="516.30" cy="335.34" r="2.25"/><circle cx="516.30" cy="302.47" r="2.25"/><circle cx="513.89" cy="314.45" r="2.25"/><circle cx="514.38" cy="322.62" r="2.25"/><circle cx="516.30" cy="309.47" r="2.25"/><circle cx="518.41" cy="312.19" r="2.25"/><circle cx="516.30" cy="297.59" r="2.25"/><circle cx="516.30" cy="284.42" r="2.25"/><circle cx="516.30" cy="291.70" r="2.25"/><circle cx="513.54" cy="309.92" r="2.25"/><circle cx="518.93" cy="326.94" r="2.25"/><circle cx="519.62" cy="308.44" r="2.25"/><circle cx="514.76" cy="288.23" r="2.25"/><circle cx="513.91" cy="299.71" r="2.25"/><circle cx="518.59" cy="300.11" r="2.25"/><circle cx="512.43" cy="327.70" r="2.25"/><circle cx="516.30" cy="268.12" r="2.25"/><circle cx="516.87" cy="320.79" r="2.25"/><circle cx="514.45" cy="305.57" r="2.25"/><circle cx="514.42" cy="281.36" r="2.25"/><circle cx="511.71" cy="304.92" r="2.25"/><circle cx="510.83" cy="310.85" r="2.25"/><circle cx="519.95" cy="315.64" r="2.25"/><circle cx="512.53" cy="319.51" r="2.25"/><circle cx="519.06" cy="291.27" r="2.25"/><circle cx="517.55" cy="330.92" r="2.25"/><circle cx="520.49" cy="303.14" r="2.25"/><circle cx="519.61" cy="321.48" r="2.25"/><circle cx="513.91" cy="293.82" r="2.25"/><circle cx="523.14" cy="304.37" r="2.25"/><circle cx="509.02" cy="307.70" r="2.25"/><circle cx="510.29" cy="317.05" r="2.25"/><circle cx="511.16" cy="293.26" r="2.25"/><circle cx="521.24" cy="298.87" r="2.25"/><circle cx="516.30" cy="277.33" r="2.25"/><circle cx="521.77" cy="290.37" r="2.25"/><circle cx="521.42" cy="325.10" r="2.25"/><circle cx="522.71" cy="316.14" r="2.25"/><circle cx="507.53" cy="317.44" r="2.25"/><circle cx="513.78" cy="337.08" r="2.25"/><circle cx="510.10" cy="321.51" r="2.25"/><circle cx="509.70" cy="328.49" r="2.25"/><circle cx="520.77" cy="294.55" r="2.25"/><circle cx="518.60" cy="279.66" r="2.25"/><circle cx="513.19" cy="332.47" r="2.25"/><circle cx="511.46" cy="297.75" r="2.25"/><circle cx="516.30" cy="350.48" r="2.25"/><circle cx="508.67" cy="313.46" r="2.25"/><circle cx="523.95" cy="323.38" r="2.25"/><circle cx="522.01" cy="310.57" r="2.25"/><circle cx="509.58" cy="302.24" r="2.25"/><circle cx="524.01" cy="298.68" r="2.25"/><circle cx="513.79" cy="275.55" r="2.25"/><circle cx="524.75" cy="311.23" r="2.25"/><circle cx="518.87" cy="285.98" r="2.25"/><circle cx="518.98" cy="336.43" r="2.25"/><circle cx="520.66" cy="282.80" r="2.25"/><circle cx="507.51" cy="323.02" r="2.25"/><circle cx="525.50" cy="319.93" r="2.25"/><circle cx="508.74" cy="296.91" r="2.25"/><circle cx="516.30" cy="343.16" r="2.25"/><circle cx="524.58" cy="327.44" r="2.25"/><circle cx="506.97" cy="303.64" r="2.25"/><circle cx="525.43" cy="315.33" r="2.25"/><circle cx="508.44" cy="292.44" r="2.25"/><circle cx="521.02" cy="339.26" r="2.25"/><circle cx="526.17" cy="296.07" r="2.25"/><circle cx="520.69" cy="333.16" r="2.25"/><circle cx="505.28" cy="320.54" r="2.25"/><circle cx="518.38" cy="274.58" r="2.25"/><circle cx="527.91" cy="322.00" r="2.25"/><circle cx="512.16" cy="286.80" r="2.25"/><circle cx="506.31" cy="308.66" r="2.25"/><circle cx="527.84" cy="317.69" r="2.25"/><circle cx="505.44" cy="314.71" r="2.25"/><circle cx="513.82" cy="341.29" r="2.25"/><circle cx="529.30" cy="314.15" r="2.25"/><circle cx="525.91" cy="303.99" r="2.25"/><circle cx="528.18" cy="306.38" r="2.25"/></g><line x1="463.3" y1="291.8" x2="489.3" y2="291.8" stroke="#000" stroke-width="1.3"/><path d="M470.3,289.8H482.3M470.3,293.8H482.3M476.3,289.8V293.8" stroke="#222" stroke-width="0.7" fill="none" opacity="0.8"/><line x1="503.3" y1="311.6" x2="529.3" y2="311.6" stroke="#000" stroke-width="1.3"/><path d="M510.3,309.6H522.3M510.3,313.6H522.3M516.3,309.6V313.6" stroke="#222" stroke-width="0.7" fill="none" opacity="0.8"/><g stroke="#999" stroke-width="0.9" fill="none"><path d="M582.5,236.8V376H676.8"/><path d="M577.9,376.00H582.5"/><path d="M577.9,352.80H582.5"/><path d="M577.9,329.60H582.5"/><path d="M577.9,306.40H582.5"/><path d="M577.9,283.20H582.5"/><path d="M577.9,260.00H582.5"/><path d="M577.9,236.80H582.5"/><path d="M609.3,376v5M649.3,376v5"/></g><g font-size="8.5" fill="#3a3a3a" text-anchor="end"><text x="572.8" y="378.80">2</text><text x="572.8" y="355.60">4</text><text x="572.8" y="332.40">6</text><text x="572.8" y="309.20">8</text><text x="572.8" y="286.00">10</text><text x="572.8" y="262.80">12</text><text x="572.8" y="239.60">14</text></g><g font-size="10" fill="#3a3a3a" text-anchor="middle"><text x="609.3" y="394">Control</text><text x="649.3" y="394">GBM</text></g><text x="629.3" y="217.7" font-size="10" fill="#3a3a3a" text-anchor="middle">Mid-occipital</text><polygon points="621.20,221.60 621.85,223.31 623.67,223.40 622.25,224.54 622.73,226.30 621.20,225.30 619.67,226.30 620.15,224.54 618.73,223.40 620.55,223.31" fill="#222"/><polygon points="626.60,221.60 627.25,223.31 629.07,223.40 627.65,224.54 628.13,226.30 626.60,225.30 625.07,226.30 625.55,224.54 624.13,223.40 625.95,223.31" fill="#222"/><polygon points="632.00,221.60 632.65,223.31 634.47,223.40 633.05,224.54 633.53,226.30 632.00,225.30 630.47,226.30 630.95,224.54 629.53,223.40 631.35,223.31" fill="#222"/><polygon points="637.40,221.60 638.05,223.31 639.87,223.40 638.45,224.54 638.93,226.30 637.40,225.30 635.87,226.30 636.35,224.54 634.93,223.40 636.75,223.31" fill="#222"/><path d="M609.3,236.7V228.3H649.3V236.7" stroke="#666" stroke-width="0.8" fill="none"/><g fill="#646464"><circle cx="609.30" cy="324.95" r="2.25"/><circle cx="609.30" cy="334.32" r="2.25"/><circle cx="606.15" cy="322.86" r="2.25"/><circle cx="609.30" cy="347.33" r="2.25"/><circle cx="609.30" cy="308.13" r="2.25"/><circle cx="609.30" cy="283.07" r="2.25"/><circle cx="606.32" cy="344.93" r="2.25"/><circle cx="606.08" cy="310.09" r="2.25"/><circle cx="609.30" cy="339.50" r="2.25"/><circle cx="609.30" cy="290.14" r="2.25"/><circle cx="608.09" cy="279.15" r="2.25"/><circle cx="609.30" cy="264.38" r="2.25"/><circle cx="609.70" cy="275.41" r="2.25"/><circle cx="612.86" cy="307.23" r="2.25"/><circle cx="609.30" cy="260.00" r="2.25"/><circle cx="609.30" cy="297.81" r="2.25"/><circle cx="606.22" cy="274.14" r="2.25"/><circle cx="606.22" cy="327.18" r="2.25"/><circle cx="612.84" cy="325.94" r="2.25"/><circle cx="606.39" cy="336.83" r="2.25"/><circle cx="606.62" cy="292.96" r="2.25"/><circle cx="611.69" cy="279.93" r="2.25"/><circle cx="605.67" cy="297.37" r="2.25"/><circle cx="612.83" cy="340.53" r="2.25"/><circle cx="612.64" cy="296.13" r="2.25"/><circle cx="612.04" cy="300.56" r="2.25"/><circle cx="605.92" cy="265.95" r="2.25"/><circle cx="602.60" cy="295.13" r="2.25"/><circle cx="605.70" cy="283.73" r="2.25"/><circle cx="603.14" cy="300.37" r="2.25"/><circle cx="608.66" cy="302.15" r="2.25"/><circle cx="603.30" cy="342.59" r="2.25"/><circle cx="612.85" cy="291.09" r="2.25"/><circle cx="615.73" cy="293.93" r="2.25"/><circle cx="611.79" cy="286.11" r="2.25"/><circle cx="603.56" cy="307.08" r="2.25"/><circle cx="615.49" cy="304.35" r="2.25"/><circle cx="603.22" cy="286.78" r="2.25"/><circle cx="609.30" cy="318.65" r="2.25"/><circle cx="615.29" cy="280.63" r="2.25"/><circle cx="609.40" cy="329.23" r="2.25"/><circle cx="606.52" cy="350.03" r="2.25"/><circle cx="599.94" cy="302.35" r="2.25"/><circle cx="607.35" cy="315.14" r="2.25"/><circle cx="612.19" cy="316.12" r="2.25"/><circle cx="615.93" cy="288.85" r="2.25"/><circle cx="606.06" cy="332.41" r="2.25"/><circle cx="602.46" cy="281.80" r="2.25"/><circle cx="609.30" cy="247.24" r="2.25"/><circle cx="603.92" cy="313.72" r="2.25"/><circle cx="616.08" cy="309.19" r="2.25"/><circle cx="601.41" cy="310.70" r="2.25"/><circle cx="609.30" cy="270.30" r="2.25"/><circle cx="612.13" cy="267.01" r="2.25"/><circle cx="612.77" cy="330.82" r="2.25"/><circle cx="613.09" cy="273.90" r="2.25"/><circle cx="599.76" cy="288.08" r="2.25"/><circle cx="602.85" cy="272.57" r="2.25"/><circle cx="619.12" cy="303.94" r="2.25"/><circle cx="619.32" cy="287.31" r="2.25"/><circle cx="596.30" cy="289.41" r="2.25"/><circle cx="612.04" cy="321.40" r="2.25"/><circle cx="615.27" cy="270.56" r="2.25"/><circle cx="604.83" cy="318.15" r="2.25"/><circle cx="603.58" cy="277.02" r="2.25"/><circle cx="615.30" cy="264.95" r="2.25"/><circle cx="615.78" cy="316.86" r="2.25"/><circle cx="615.59" cy="322.36" r="2.25"/><circle cx="611.25" cy="311.65" r="2.25"/><circle cx="619.37" cy="294.28" r="2.25"/></g><g fill="#ff0000"><circle cx="649.30" cy="317.30" r="2.25"/><circle cx="649.30" cy="348.68" r="2.25"/><circle cx="649.30" cy="333.23" r="2.25"/><circle cx="649.30" cy="278.56" r="2.25"/><circle cx="649.30" cy="313.13" r="2.25"/><circle cx="649.30" cy="322.54" r="2.25"/><circle cx="649.30" cy="327.45" r="2.25"/><circle cx="647.07" cy="319.02" r="2.25"/><circle cx="647.24" cy="310.87" r="2.25"/><circle cx="649.30" cy="304.32" r="2.25"/><circle cx="651.72" cy="317.97" r="2.25"/><circle cx="649.30" cy="341.71" r="2.25"/><circle cx="648.30" cy="300.52" r="2.25"/><circle cx="646.85" cy="278.56" r="2.25"/><circle cx="645.36" cy="316.03" r="2.25"/><circle cx="647.37" cy="330.65" r="2.25"/><circle cx="651.35" cy="302.03" r="2.25"/><circle cx="647.40" cy="335.85" r="2.25"/><circle cx="651.60" cy="331.77" r="2.25"/><circle cx="646.86" cy="304.77" r="2.25"/><circle cx="646.85" cy="348.49" r="2.25"/><circle cx="649.96" cy="308.33" r="2.25"/><circle cx="644.93" cy="330.91" r="2.25"/><circle cx="653.94" cy="319.74" r="2.25"/><circle cx="655.37" cy="316.36" r="2.25"/><circle cx="645.25" cy="321.81" r="2.25"/><circle cx="652.17" cy="306.53" r="2.25"/><circle cx="651.68" cy="347.70" r="2.25"/><circle cx="644.47" cy="305.69" r="2.25"/><circle cx="650.01" cy="297.53" r="2.25"/><circle cx="649.30" cy="263.48" r="2.25"/><circle cx="646.03" cy="298.96" r="2.25"/><circle cx="651.63" cy="323.84" r="2.25"/><circle cx="653.33" cy="299.58" r="2.25"/><circle cx="651.49" cy="339.83" r="2.25"/><circle cx="653.63" cy="334.10" r="2.25"/><circle cx="645.09" cy="337.24" r="2.25"/><circle cx="651.66" cy="311.33" r="2.25"/><circle cx="649.30" cy="287.03" r="2.25"/><circle cx="655.41" cy="331.23" r="2.25"/><circle cx="654.55" cy="307.52" r="2.25"/><circle cx="646.92" cy="340.74" r="2.25"/><circle cx="643.33" cy="318.37" r="2.25"/><circle cx="647.14" cy="325.49" r="2.25"/><circle cx="653.09" cy="328.47" r="2.25"/><circle cx="643.03" cy="328.26" r="2.25"/><circle cx="655.58" cy="336.63" r="2.25"/><circle cx="643.08" cy="334.86" r="2.25"/><circle cx="653.92" cy="340.34" r="2.25"/><circle cx="657.32" cy="318.89" r="2.25"/><circle cx="654.64" cy="325.25" r="2.25"/><circle cx="644.91" cy="343.13" r="2.25"/><circle cx="657.44" cy="328.91" r="2.25"/><circle cx="640.96" cy="326.04" r="2.25"/><circle cx="657.01" cy="324.20" r="2.25"/><circle cx="649.30" cy="258.24" r="2.25"/><circle cx="649.30" cy="271.95" r="2.25"/><circle cx="654.03" cy="312.37" r="2.25"/><circle cx="646.89" cy="259.03" r="2.25"/><circle cx="644.85" cy="311.77" r="2.25"/><circle cx="659.46" cy="324.48" r="2.25"/><circle cx="649.30" cy="356.74" r="2.25"/><circle cx="653.92" cy="345.98" r="2.25"/><circle cx="641.19" cy="337.52" r="2.25"/><circle cx="642.53" cy="342.11" r="2.25"/><circle cx="642.56" cy="310.29" r="2.25"/><circle cx="643.70" cy="346.75" r="2.25"/><circle cx="656.99" cy="306.99" r="2.25"/><circle cx="640.10" cy="329.94" r="2.25"/><circle cx="641.56" cy="314.08" r="2.25"/><circle cx="637.92" cy="328.05" r="2.25"/><circle cx="657.90" cy="335.32" r="2.25"/><circle cx="656.31" cy="345.11" r="2.25"/><circle cx="639.79" cy="316.97" r="2.25"/><circle cx="646.85" cy="287.03" r="2.25"/><circle cx="647.95" cy="266.96" r="2.25"/><circle cx="656.70" cy="312.86" r="2.25"/><circle cx="642.86" cy="322.77" r="2.25"/><circle cx="649.30" cy="293.41" r="2.25"/><circle cx="659.06" cy="338.99" r="2.25"/><circle cx="640.13" cy="342.93" r="2.25"/><circle cx="643.67" cy="301.76" r="2.25"/><circle cx="640.07" cy="322.16" r="2.25"/><circle cx="637.73" cy="323.36" r="2.25"/><circle cx="638.93" cy="335.92" r="2.25"/><circle cx="659.87" cy="329.46" r="2.25"/><circle cx="660.20" cy="333.87" r="2.25"/><circle cx="659.64" cy="320.21" r="2.25"/><circle cx="659.06" cy="314.00" r="2.25"/><circle cx="662.30" cy="330.03" r="2.25"/></g><line x1="596.3" y1="301.9" x2="622.3" y2="301.9" stroke="#000" stroke-width="1.3"/><path d="M603.3,299.9H615.3M603.3,303.9H615.3M609.3,299.9V303.9" stroke="#222" stroke-width="0.7" fill="none" opacity="0.8"/><line x1="636.3" y1="317.4" x2="662.3" y2="317.4" stroke="#000" stroke-width="1.3"/><path d="M643.3,315.4H655.3M643.3,319.4H655.3M649.3,315.4V319.4" stroke="#222" stroke-width="0.7" fill="none" opacity="0.8"/><text x="-0.3" y="418.7" font-size="13.8" font-weight="bold" fill="#000">d</text><text transform="translate(8.6,492.4) rotate(-90)" font-size="10" fill="#3a3a3a" text-anchor="middle">Density (HU)</text><g stroke="#999" stroke-width="0.9" fill="none"><path d="M48.6,422.8V562H142.9"/><path d="M44.0,555.80H48.6"/><path d="M44.0,522.55H48.6"/><path d="M44.0,489.30H48.6"/><path d="M44.0,456.05H48.6"/><path d="M44.0,422.80H48.6"/><path d="M75.4,562v5M115.4,562v5"/></g><g font-size="8.5" fill="#3a3a3a" text-anchor="end"><text x="38.9" y="558.60">500</text><text x="38.9" y="525.35">1,000</text><text x="38.9" y="492.10">1,500</text><text x="38.9" y="458.85">2,000</text><text x="38.9" y="425.60">2,500</text></g><g font-size="10" fill="#3a3a3a" text-anchor="middle"><text x="75.4" y="579">Control</text><text x="115.4" y="579">GBM</text></g><g fill="#646464"><circle cx="75.40" cy="491.98" r="2.25"/><circle cx="74.07" cy="493.72" r="2.25"/><circle cx="75.40" cy="496.55" r="2.25"/><circle cx="76.85" cy="495.95" r="2.25"/><circle cx="75.40" cy="503.94" r="2.25"/><circle cx="72.94" cy="496.38" r="2.25"/><circle cx="75.40" cy="478.66" r="2.25"/><circle cx="73.95" cy="504.45" r="2.25"/><circle cx="76.56" cy="501.41" r="2.25"/><circle cx="75.40" cy="484.10" r="2.25"/><circle cx="78.29" cy="495.18" r="2.25"/><circle cx="74.10" cy="486.01" r="2.25"/><circle cx="78.00" cy="502.18" r="2.25"/><circle cx="74.20" cy="498.95" r="2.25"/><circle cx="72.55" cy="500.39" r="2.25"/><circle cx="71.69" cy="494.21" r="2.25"/><circle cx="76.37" cy="488.86" r="2.25"/><circle cx="79.53" cy="492.96" r="2.25"/><circle cx="70.25" cy="494.98" r="2.25"/><circle cx="77.02" cy="505.37" r="2.25"/><circle cx="79.26" cy="498.28" r="2.25"/><circle cx="77.58" cy="491.20" r="2.25"/><circle cx="80.71" cy="497.69" r="2.25"/><circle cx="75.40" cy="527.87" r="2.25"/><circle cx="80.98" cy="492.36" r="2.25"/><circle cx="73.44" cy="489.97" r="2.25"/><circle cx="71.16" cy="499.13" r="2.25"/><circle cx="69.39" cy="491.62" r="2.25"/><circle cx="69.41" cy="498.39" r="2.25"/><circle cx="77.29" cy="485.63" r="2.25"/><circle cx="82.01" cy="495.76" r="2.25"/><circle cx="74.27" cy="530.53" r="2.25"/><circle cx="75.40" cy="472.28" r="2.25"/><circle cx="74.18" cy="481.82" r="2.25"/><circle cx="68.19" cy="496.09" r="2.25"/><circle cx="73.94" cy="472.28" r="2.25"/><circle cx="83.18" cy="493.26" r="2.25"/><circle cx="71.51" cy="503.32" r="2.25"/><circle cx="75.56" cy="532.52" r="2.25"/><circle cx="66.74" cy="495.49" r="2.25"/><circle cx="75.40" cy="509.63" r="2.25"/><circle cx="78.52" cy="487.89" r="2.25"/><circle cx="84.62" cy="492.54" r="2.25"/><circle cx="85.24" cy="496.31" r="2.25"/><circle cx="72.86" cy="507.23" r="2.25"/><circle cx="71.99" cy="489.28" r="2.25"/><circle cx="65.30" cy="496.13" r="2.25"/><circle cx="81.94" cy="499.98" r="2.25"/><circle cx="86.68" cy="495.62" r="2.25"/><circle cx="63.86" cy="495.27" r="2.25"/><circle cx="88.09" cy="494.49" r="2.25"/><circle cx="72.87" cy="483.74" r="2.25"/><circle cx="78.45" cy="483.08" r="2.25"/><circle cx="62.40" cy="495.45" r="2.25"/><circle cx="83.32" cy="497.61" r="2.25"/><circle cx="67.39" cy="499.58" r="2.25"/><circle cx="67.96" cy="490.70" r="2.25"/><circle cx="79.93" cy="486.81" r="2.25"/><circle cx="77.85" cy="508.79" r="2.25"/><circle cx="70.65" cy="487.63" r="2.25"/></g><g fill="#ff0000"><circle cx="115.40" cy="502.03" r="2.25"/><circle cx="115.40" cy="488.21" r="2.25"/><circle cx="113.82" cy="499.16" r="2.25"/><circle cx="113.23" cy="487.94" r="2.25"/><circle cx="115.40" cy="482.44" r="2.25"/><circle cx="117.57" cy="488.63" r="2.25"/><circle cx="115.40" cy="520.32" r="2.25"/><circle cx="114.56" cy="505.87" r="2.25"/><circle cx="115.40" cy="512.08" r="2.25"/><circle cx="115.87" cy="497.72" r="2.25"/><circle cx="113.33" cy="481.12" r="2.25"/><circle cx="117.55" cy="483.07" r="2.25"/><circle cx="117.70" cy="499.96" r="2.25"/><circle cx="112.48" cy="502.44" r="2.25"/><circle cx="111.26" cy="489.76" r="2.25"/><circle cx="119.88" cy="500.25" r="2.25"/><circle cx="116.65" cy="479.03" r="2.25"/><circle cx="116.88" cy="505.09" r="2.25"/><circle cx="115.40" cy="438.76" r="2.25"/><circle cx="113.26" cy="512.91" r="2.25"/><circle cx="111.22" cy="482.10" r="2.25"/><circle cx="117.48" cy="510.86" r="2.25"/><circle cx="117.70" cy="495.47" r="2.25"/><circle cx="119.43" cy="485.20" r="2.25"/><circle cx="113.25" cy="520.95" r="2.25"/><circle cx="114.25" cy="491.76" r="2.25"/><circle cx="112.90" cy="495.01" r="2.25"/><circle cx="119.28" cy="513.23" r="2.25"/><circle cx="110.84" cy="499.71" r="2.25"/><circle cx="119.88" cy="495.77" r="2.25"/><circle cx="109.32" cy="484.16" r="2.25"/><circle cx="121.76" cy="498.16" r="2.25"/><circle cx="112.04" cy="509.48" r="2.25"/><circle cx="119.13" cy="480.21" r="2.25"/><circle cx="121.60" cy="485.54" r="2.25"/><circle cx="118.90" cy="506.67" r="2.25"/><circle cx="107.71" cy="486.95" r="2.25"/><circle cx="110.54" cy="504.34" r="2.25"/><circle cx="115.40" cy="526.43" r="2.25"/><circle cx="109.33" cy="496.70" r="2.25"/><circle cx="123.62" cy="487.12" r="2.25"/><circle cx="120.92" cy="508.21" r="2.25"/><circle cx="117.14" cy="522.82" r="2.25"/><circle cx="109.88" cy="508.85" r="2.25"/><circle cx="122.70" cy="510.60" r="2.25"/><circle cx="111.68" cy="523.85" r="2.25"/><circle cx="121.56" cy="493.13" r="2.25"/><circle cx="107.40" cy="498.63" r="2.25"/><circle cx="108.90" cy="492.62" r="2.25"/><circle cx="121.33" cy="504.12" r="2.25"/><circle cx="111.35" cy="514.89" r="2.25"/><circle cx="119.68" cy="489.64" r="2.25"/><circle cx="123.12" cy="501.74" r="2.25"/><circle cx="116.41" cy="515.76" r="2.25"/><circle cx="107.84" cy="507.39" r="2.25"/><circle cx="106.96" cy="503.59" r="2.25"/><circle cx="110.05" cy="478.58" r="2.25"/><circle cx="105.90" cy="489.28" r="2.25"/><circle cx="121.31" cy="479.98" r="2.25"/><circle cx="107.92" cy="477.77" r="2.25"/><circle cx="114.28" cy="516.61" r="2.25"/><circle cx="124.86" cy="490.54" r="2.25"/><circle cx="105.84" cy="484.80" r="2.25"/><circle cx="105.99" cy="509.60" r="2.25"/><circle cx="106.78" cy="493.64" r="2.25"/><circle cx="109.23" cy="513.93" r="2.25"/><circle cx="124.89" cy="483.74" r="2.25"/><circle cx="114.78" cy="434.77" r="2.25"/><circle cx="123.91" cy="497.44" r="2.25"/><circle cx="121.35" cy="514.52" r="2.25"/><circle cx="104.33" cy="492.16" r="2.25"/><circle cx="126.48" cy="493.33" r="2.25"/><circle cx="113.22" cy="438.76" r="2.25"/><circle cx="118.22" cy="518.09" r="2.25"/><circle cx="120.39" cy="518.49" r="2.25"/><circle cx="102.40" cy="494.11" r="2.25"/><circle cx="113.25" cy="527.10" r="2.25"/><circle cx="111.28" cy="519.17" r="2.25"/><circle cx="127.04" cy="484.48" r="2.25"/><circle cx="119.21" cy="524.11" r="2.25"/><circle cx="109.60" cy="525.08" r="2.25"/></g><line x1="62.4" y1="495.7" x2="88.4" y2="495.7" stroke="#000" stroke-width="1.3"/><path d="M69.4,493.7H81.4M69.4,497.7H81.4M75.4,493.7V497.7" stroke="#222" stroke-width="0.7" fill="none" opacity="0.8"/><line x1="102.4" y1="497.3" x2="128.4" y2="497.3" stroke="#000" stroke-width="1.3"/><path d="M109.4,495.3H121.4M109.4,499.3H121.4M115.4,495.3V499.3" stroke="#222" stroke-width="0.7" fill="none" opacity="0.8"/><g stroke="#999" stroke-width="0.9" fill="none"><path d="M182.8,422.8V562H277.1"/><path d="M178.20000000000002,555.80H182.8"/><path d="M178.20000000000002,522.55H182.8"/><path d="M178.20000000000002,489.30H182.8"/><path d="M178.20000000000002,456.05H182.8"/><path d="M178.20000000000002,422.80H182.8"/><path d="M209.60000000000002,562v5M249.60000000000002,562v5"/></g><g font-size="8.5" fill="#3a3a3a" text-anchor="end"><text x="173.1" y="558.60">500</text><text x="173.1" y="525.35">1,000</text><text x="173.1" y="492.10">1,500</text><text x="173.1" y="458.85">2,000</text><text x="173.1" y="425.60">2,500</text></g><g font-size="10" fill="#3a3a3a" text-anchor="middle"><text x="209.6" y="579">Control</text><text x="249.6" y="579">GBM</text></g><g fill="#646464"><circle cx="209.60" cy="489.88" r="2.25"/><circle cx="209.60" cy="509.29" r="2.25"/><circle cx="209.60" cy="522.26" r="2.25"/><circle cx="209.60" cy="514.91" r="2.25"/><circle cx="206.69" cy="519.94" r="2.25"/><circle cx="209.60" cy="536.51" r="2.25"/><circle cx="206.52" cy="538.49" r="2.25"/><circle cx="209.60" cy="494.12" r="2.25"/><circle cx="206.16" cy="508.49" r="2.25"/><circle cx="206.15" cy="494.86" r="2.25"/><circle cx="211.54" cy="539.98" r="2.25"/><circle cx="211.46" cy="497.65" r="2.25"/><circle cx="208.52" cy="499.93" r="2.25"/><circle cx="212.87" cy="510.80" r="2.25"/><circle cx="212.91" cy="492.76" r="2.25"/><circle cx="211.39" cy="502.33" r="2.25"/><circle cx="209.60" cy="483.31" r="2.25"/><circle cx="206.02" cy="502.84" r="2.25"/><circle cx="216.29" cy="509.90" r="2.25"/><circle cx="213.68" cy="505.48" r="2.25"/><circle cx="202.71" cy="504.21" r="2.25"/><circle cx="218.81" cy="507.01" r="2.25"/><circle cx="202.90" cy="493.29" r="2.25"/><circle cx="209.60" cy="526.92" r="2.25"/><circle cx="206.14" cy="483.99" r="2.25"/><circle cx="199.31" cy="505.24" r="2.25"/><circle cx="214.68" cy="499.29" r="2.25"/><circle cx="212.99" cy="523.32" r="2.25"/><circle cx="216.31" cy="491.75" r="2.25"/><circle cx="217.46" cy="496.76" r="2.25"/><circle cx="204.91" cy="498.76" r="2.25"/><circle cx="206.92" cy="533.82" r="2.25"/><circle cx="211.52" cy="530.41" r="2.25"/><circle cx="201.44" cy="498.17" r="2.25"/><circle cx="221.12" cy="503.88" r="2.25"/><circle cx="199.53" cy="494.43" r="2.25"/><circle cx="212.71" cy="485.24" r="2.25"/><circle cx="219.42" cy="500.21" r="2.25"/><circle cx="206.40" cy="488.17" r="2.25"/><circle cx="197.64" cy="501.58" r="2.25"/><circle cx="212.88" cy="516.39" r="2.25"/><circle cx="220.85" cy="495.69" r="2.25"/><circle cx="204.05" cy="511.82" r="2.25"/><circle cx="214.94" cy="482.04" r="2.25"/><circle cx="215.98" cy="514.46" r="2.25"/><circle cx="206.39" cy="525.26" r="2.25"/><circle cx="202.96" cy="488.94" r="2.25"/><circle cx="215.93" cy="486.89" r="2.25"/><circle cx="196.60" cy="492.15" r="2.25"/><circle cx="203.42" cy="518.43" r="2.25"/></g><g fill="#ff0000"><circle cx="249.60" cy="498.26" r="2.25"/><circle cx="249.60" cy="514.79" r="2.25"/><circle cx="249.60" cy="484.44" r="2.25"/><circle cx="247.15" cy="485.29" r="2.25"/><circle cx="249.60" cy="530.72" r="2.25"/><circle cx="248.13" cy="494.90" r="2.25"/><circle cx="249.60" cy="504.09" r="2.25"/><circle cx="247.28" cy="502.54" r="2.25"/><circle cx="251.75" cy="500.41" r="2.25"/><circle cx="251.95" cy="505.51" r="2.25"/><circle cx="249.60" cy="509.34" r="2.25"/><circle cx="254.19" cy="501.33" r="2.25"/><circle cx="245.43" cy="499.72" r="2.25"/><circle cx="251.91" cy="482.84" r="2.25"/><circle cx="242.95" cy="499.21" r="2.25"/><circle cx="249.60" cy="523.52" r="2.25"/><circle cx="249.60" cy="489.14" r="2.25"/><circle cx="247.15" cy="524.42" r="2.25"/><circle cx="251.31" cy="526.57" r="2.25"/><circle cx="251.96" cy="487.73" r="2.25"/><circle cx="255.74" cy="498.07" r="2.25"/><circle cx="247.22" cy="513.48" r="2.25"/><circle cx="247.04" cy="491.15" r="2.25"/><circle cx="245.15" cy="504.73" r="2.25"/><circle cx="251.96" cy="510.75" r="2.25"/><circle cx="249.60" cy="460.04" r="2.25"/><circle cx="249.60" cy="544.07" r="2.25"/><circle cx="245.80" cy="510.05" r="2.25"/><circle cx="254.14" cy="507.53" r="2.25"/><circle cx="243.52" cy="508.35" r="2.25"/><circle cx="255.93" cy="504.61" r="2.25"/><circle cx="253.38" cy="514.17" r="2.25"/><circle cx="245.74" cy="527.85" r="2.25"/><circle cx="251.48" cy="495.50" r="2.25"/><circle cx="253.41" cy="492.87" r="2.25"/><circle cx="245.55" cy="482.09" r="2.25"/><circle cx="257.33" cy="508.06" r="2.25"/><circle cx="244.93" cy="493.39" r="2.25"/><circle cx="244.96" cy="515.24" r="2.25"/><circle cx="249.60" cy="535.18" r="2.25"/><circle cx="258.10" cy="496.64" r="2.25"/><circle cx="241.39" cy="510.55" r="2.25"/><circle cx="249.60" cy="519.36" r="2.25"/><circle cx="255.49" cy="511.94" r="2.25"/><circle cx="240.74" cy="497.25" r="2.25"/><circle cx="247.28" cy="517.77" r="2.25"/><circle cx="256.10" cy="493.95" r="2.25"/><circle cx="253.78" cy="525.90" r="2.25"/><circle cx="257.72" cy="501.70" r="2.25"/><circle cx="260.23" cy="498.82" r="2.25"/><circle cx="238.98" cy="500.21" r="2.25"/><circle cx="241.85" cy="502.95" r="2.25"/><circle cx="252.03" cy="522.51" r="2.25"/><circle cx="259.74" cy="509.15" r="2.25"/><circle cx="249.60" cy="455.38" r="2.25"/><circle cx="255.49" cy="516.41" r="2.25"/><circle cx="242.48" cy="494.23" r="2.25"/><circle cx="244.86" cy="486.97" r="2.25"/><circle cx="247.66" cy="506.72" r="2.25"/><circle cx="245.30" cy="520.30" r="2.25"/><circle cx="254.41" cy="488.59" r="2.25"/><circle cx="260.06" cy="503.20" r="2.25"/><circle cx="239.84" cy="505.43" r="2.25"/><circle cx="249.60" cy="548.71" r="2.25"/><circle cx="257.90" cy="513.08" r="2.25"/><circle cx="247.21" cy="531.97" r="2.25"/><circle cx="252.74" cy="518.52" r="2.25"/><circle cx="249.60" cy="444.08" r="2.25"/><circle cx="249.60" cy="479.32" r="2.25"/><circle cx="243.18" cy="490.06" r="2.25"/><circle cx="254.81" cy="520.86" r="2.25"/><circle cx="247.39" cy="537.13" r="2.25"/><circle cx="255.42" cy="529.03" r="2.25"/><circle cx="258.34" cy="492.08" r="2.25"/><circle cx="238.41" cy="495.72" r="2.25"/><circle cx="237.40" cy="503.43" r="2.25"/><circle cx="262.60" cy="497.50" r="2.25"/><circle cx="260.80" cy="492.83" r="2.25"/></g><line x1="196.6" y1="505.2" x2="222.6" y2="505.2" stroke="#000" stroke-width="1.3"/><path d="M203.6,503.2H215.6M203.6,507.2H215.6M209.6,503.2V507.2" stroke="#222" stroke-width="0.7" fill="none" opacity="0.8"/><line x1="236.6" y1="507.5" x2="262.6" y2="507.5" stroke="#000" stroke-width="1.3"/><path d="M243.6,505.5H255.6M243.6,509.5H255.6M249.6,505.5V509.5" stroke="#222" stroke-width="0.7" fill="none" opacity="0.8"/><g stroke="#999" stroke-width="0.9" fill="none"><path d="M316.0,422.8V562H410.3"/><path d="M311.4,555.80H316.0"/><path d="M311.4,522.55H316.0"/><path d="M311.4,489.30H316.0"/><path d="M311.4,456.05H316.0"/><path d="M311.4,422.80H316.0"/><path d="M342.8,562v5M382.8,562v5"/></g><g font-size="8.5" fill="#3a3a3a" text-anchor="end"><text x="306.3" y="558.60">500</text><text x="306.3" y="525.35">1,000</text><text x="306.3" y="492.10">1,500</text><text x="306.3" y="458.85">2,000</text><text x="306.3" y="425.60">2,500</text></g><g font-size="10" fill="#3a3a3a" text-anchor="middle"><text x="342.8" y="579">Control</text><text x="382.8" y="579">GBM</text></g><g fill="#646464"><circle cx="342.80" cy="505.63" r="2.25"/><circle cx="342.80" cy="527.47" r="2.25"/><circle cx="342.80" cy="537.79" r="2.25"/><circle cx="342.80" cy="489.00" r="2.25"/><circle cx="342.80" cy="518.40" r="2.25"/><circle cx="342.80" cy="498.00" r="2.25"/><circle cx="342.80" cy="511.78" r="2.25"/><circle cx="340.37" cy="512.14" r="2.25"/><circle cx="340.47" cy="506.85" r="2.25"/><circle cx="345.18" cy="504.72" r="2.25"/><circle cx="340.46" cy="517.19" r="2.25"/><circle cx="339.82" cy="502.83" r="2.25"/><circle cx="340.84" cy="535.31" r="2.25"/><circle cx="341.19" cy="492.14" r="2.25"/><circle cx="344.93" cy="500.04" r="2.25"/><circle cx="345.24" cy="518.56" r="2.25"/><circle cx="346.18" cy="508.52" r="2.25"/><circle cx="339.03" cy="498.90" r="2.25"/><circle cx="344.89" cy="495.86" r="2.25"/><circle cx="345.08" cy="513.25" r="2.25"/><circle cx="347.15" cy="497.44" r="2.25"/><circle cx="336.60" cy="498.60" r="2.25"/><circle cx="349.37" cy="495.71" r="2.25"/><circle cx="347.57" cy="503.82" r="2.25"/><circle cx="342.80" cy="479.45" r="2.25"/><circle cx="346.46" cy="492.66" r="2.25"/><circle cx="338.01" cy="511.05" r="2.25"/><circle cx="334.56" cy="496.30" r="2.25"/><circle cx="338.05" cy="506.27" r="2.25"/><circle cx="348.46" cy="510.00" r="2.25"/><circle cx="339.00" cy="493.96" r="2.25"/><circle cx="340.43" cy="480.46" r="2.25"/><circle cx="344.88" cy="481.63" r="2.25"/><circle cx="347.08" cy="515.64" r="2.25"/><circle cx="338.04" cy="517.66" r="2.25"/><circle cx="342.59" cy="484.86" r="2.25"/><circle cx="335.86" cy="513.04" r="2.25"/><circle cx="349.67" cy="501.69" r="2.25"/><circle cx="337.20" cy="491.13" r="2.25"/><circle cx="334.55" cy="500.87" r="2.25"/><circle cx="349.48" cy="516.44" r="2.25"/><circle cx="345.09" cy="539.22" r="2.25"/><circle cx="348.45" cy="490.27" r="2.25"/><circle cx="334.88" cy="509.23" r="2.25"/><circle cx="351.90" cy="503.37" r="2.25"/><circle cx="351.54" cy="493.82" r="2.25"/><circle cx="350.59" cy="507.98" r="2.25"/><circle cx="341.48" cy="523.97" r="2.25"/><circle cx="341.27" cy="476.20" r="2.25"/><circle cx="352.25" cy="497.80" r="2.25"/><circle cx="332.14" cy="496.85" r="2.25"/><circle cx="344.87" cy="486.79" r="2.25"/><circle cx="332.83" cy="506.97" r="2.25"/><circle cx="354.14" cy="500.44" r="2.25"/><circle cx="332.24" cy="502.22" r="2.25"/><circle cx="339.32" cy="484.17" r="2.25"/><circle cx="329.80" cy="502.04" r="2.25"/><circle cx="351.62" cy="514.44" r="2.25"/></g><g fill="#ff0000"><circle cx="382.80" cy="547.82" r="2.25"/><circle cx="382.80" cy="516.18" r="2.25"/><circle cx="382.80" cy="558.46" r="2.25"/><circle cx="382.80" cy="465.36" r="2.25"/><circle cx="382.80" cy="536.88" r="2.25"/><circle cx="382.80" cy="458.05" r="2.25"/><circle cx="382.80" cy="531.02" r="2.25"/><circle cx="382.80" cy="470.66" r="2.25"/><circle cx="382.80" cy="509.89" r="2.25"/><circle cx="382.80" cy="478.21" r="2.25"/><circle cx="382.80" cy="523.81" r="2.25"/><circle cx="382.80" cy="484.06" r="2.25"/><circle cx="380.82" cy="487.38" r="2.25"/><circle cx="379.62" cy="515.14" r="2.25"/><circle cx="382.80" cy="501.27" r="2.25"/><circle cx="385.18" cy="519.05" r="2.25"/><circle cx="381.37" cy="497.52" r="2.25"/><circle cx="379.65" cy="525.00" r="2.25"/><circle cx="379.65" cy="477.03" r="2.25"/><circle cx="385.83" cy="525.40" r="2.25"/><circle cx="379.56" cy="501.96" r="2.25"/><circle cx="385.87" cy="511.38" r="2.25"/><circle cx="384.12" cy="487.87" r="2.25"/><circle cx="387.61" cy="521.90" r="2.25"/><circle cx="384.56" cy="496.54" r="2.25"/><circle cx="387.00" cy="485.87" r="2.25"/><circle cx="385.35" cy="503.89" r="2.25"/><circle cx="382.80" cy="492.37" r="2.25"/><circle cx="380.34" cy="481.31" r="2.25"/><circle cx="379.58" cy="531.83" r="2.25"/><circle cx="386.89" cy="490.11" r="2.25"/><circle cx="385.65" cy="534.81" r="2.25"/><circle cx="377.35" cy="527.97" r="2.25"/><circle cx="382.80" cy="445.28" r="2.25"/><circle cx="388.85" cy="527.05" r="2.25"/><circle cx="386.01" cy="530.16" r="2.25"/><circle cx="377.71" cy="483.81" r="2.25"/><circle cx="377.03" cy="522.51" r="2.25"/><circle cx="387.79" cy="516.53" r="2.25"/><circle cx="377.01" cy="504.59" r="2.25"/><circle cx="378.23" cy="489.95" r="2.25"/><circle cx="379.66" cy="493.96" r="2.25"/><circle cx="376.51" cy="513.81" r="2.25"/><circle cx="379.55" cy="471.23" r="2.25"/><circle cx="387.23" cy="500.48" r="2.25"/><circle cx="380.66" cy="506.73" r="2.25"/><circle cx="381.47" cy="520.00" r="2.25"/><circle cx="388.48" cy="505.16" r="2.25"/><circle cx="379.51" cy="465.36" r="2.25"/><circle cx="377.21" cy="517.98" r="2.25"/><circle cx="385.75" cy="480.03" r="2.25"/><circle cx="387.53" cy="494.77" r="2.25"/><circle cx="390.06" cy="489.05" r="2.25"/><circle cx="387.55" cy="476.54" r="2.25"/><circle cx="377.08" cy="499.23" r="2.25"/><circle cx="390.13" cy="498.52" r="2.25"/><circle cx="385.90" cy="472.05" r="2.25"/><circle cx="390.85" cy="521.17" r="2.25"/><circle cx="389.10" cy="512.12" r="2.25"/><circle cx="377.85" cy="508.89" r="2.25"/><circle cx="391.91" cy="514.27" r="2.25"/><circle cx="379.75" cy="538.43" r="2.25"/><circle cx="391.75" cy="505.55" r="2.25"/><circle cx="374.75" cy="510.27" r="2.25"/><circle cx="375.10" cy="491.21" r="2.25"/><circle cx="371.96" cy="508.08" r="2.25"/><circle cx="394.05" cy="511.11" r="2.25"/><circle cx="373.96" cy="517.38" r="2.25"/><circle cx="395.80" cy="507.59" r="2.25"/><circle cx="375.08" cy="495.93" r="2.25"/><circle cx="376.93" cy="474.69" r="2.25"/><circle cx="391.99" cy="495.08" r="2.25"/><circle cx="374.11" cy="528.66" r="2.25"/><circle cx="382.80" cy="452.06" r="2.25"/><circle cx="374.38" cy="501.60" r="2.25"/><circle cx="394.24" cy="502.83" r="2.25"/><circle cx="388.60" cy="482.12" r="2.25"/></g><line x1="329.8" y1="505.2" x2="355.8" y2="505.2" stroke="#000" stroke-width="1.3"/><path d="M336.8,503.2H348.8M336.8,507.2H348.8M342.8,503.2V507.2" stroke="#222" stroke-width="0.7" fill="none" opacity="0.8"/><line x1="369.8" y1="508.3" x2="395.8" y2="508.3" stroke="#000" stroke-width="1.3"/><path d="M376.8,506.3H388.8M376.8,510.3H388.8M382.8,506.3V510.3" stroke="#222" stroke-width="0.7" fill="none" opacity="0.8"/><g stroke="#999" stroke-width="0.9" fill="none"><path d="M449.5,422.8V562H543.8"/><path d="M444.9,555.80H449.5"/><path d="M444.9,522.55H449.5"/><path d="M444.9,489.30H449.5"/><path d="M444.9,456.05H449.5"/><path d="M444.9,422.80H449.5"/><path d="M476.3,562v5M516.3,562v5"/></g><g font-size="8.5" fill="#3a3a3a" text-anchor="end"><text x="439.8" y="558.60">500</text><text x="439.8" y="525.35">1,000</text><text x="439.8" y="492.10">1,500</text><text x="439.8" y="458.85">2,000</text><text x="439.8" y="425.60">2,500</text></g><g font-size="10" fill="#3a3a3a" text-anchor="middle"><text x="476.3" y="579">Control</text><text x="516.3" y="579">GBM</text></g><g fill="#646464"><circle cx="476.30" cy="490.70" r="2.25"/><circle cx="476.30" cy="516.78" r="2.25"/><circle cx="476.30" cy="501.39" r="2.25"/><circle cx="476.30" cy="537.89" r="2.25"/><circle cx="474.03" cy="491.51" r="2.25"/><circle cx="474.01" cy="501.98" r="2.25"/><circle cx="476.30" cy="506.69" r="2.25"/><circle cx="475.53" cy="497.46" r="2.25"/><circle cx="478.61" cy="501.64" r="2.25"/><circle cx="479.56" cy="505.43" r="2.25"/><circle cx="471.77" cy="500.92" r="2.25"/><circle cx="474.00" cy="506.30" r="2.25"/><circle cx="476.30" cy="475.14" r="2.25"/><circle cx="471.77" cy="505.18" r="2.25"/><circle cx="477.96" cy="509.60" r="2.25"/><circle cx="477.67" cy="495.89" r="2.25"/><circle cx="481.35" cy="502.79" r="2.25"/><circle cx="475.02" cy="513.31" r="2.25"/><circle cx="469.58" cy="502.25" r="2.25"/><circle cx="483.29" cy="500.52" r="2.25"/><circle cx="467.42" cy="500.76" r="2.25"/><circle cx="479.38" cy="493.08" r="2.25"/><circle cx="478.50" cy="515.47" r="2.25"/><circle cx="476.30" cy="481.85" r="2.25"/><circle cx="472.88" cy="511.75" r="2.25"/><circle cx="476.30" cy="542.40" r="2.25"/><circle cx="479.92" cy="498.20" r="2.25"/><circle cx="480.48" cy="509.25" r="2.25"/><circle cx="473.25" cy="496.76" r="2.25"/><circle cx="476.30" cy="549.62" r="2.25"/><circle cx="485.37" cy="502.36" r="2.25"/><circle cx="465.55" cy="503.23" r="2.25"/><circle cx="487.32" cy="504.60" r="2.25"/><circle cx="476.30" cy="522.02" r="2.25"/><circle cx="487.30" cy="500.06" r="2.25"/><circle cx="470.66" cy="510.53" r="2.25"/><circle cx="474.05" cy="482.86" r="2.25"/><circle cx="482.74" cy="508.36" r="2.25"/><circle cx="470.94" cy="496.39" r="2.25"/><circle cx="483.96" cy="511.90" r="2.25"/><circle cx="474.19" cy="518.51" r="2.25"/><circle cx="469.33" cy="507.13" r="2.25"/><circle cx="477.68" cy="485.19" r="2.25"/><circle cx="480.54" cy="489.47" r="2.25"/><circle cx="463.30" cy="504.18" r="2.25"/><circle cx="481.52" cy="494.69" r="2.25"/><circle cx="474.01" cy="538.55" r="2.25"/><circle cx="474.33" cy="477.33" r="2.25"/></g><g fill="#ff0000"><circle cx="516.30" cy="508.33" r="2.25"/><circle cx="514.30" cy="508.58" r="2.25"/><circle cx="516.30" cy="496.16" r="2.25"/><circle cx="516.30" cy="491.24" r="2.25"/><circle cx="514.56" cy="494.09" r="2.25"/><circle cx="518.13" cy="506.65" r="2.25"/><circle cx="514.57" cy="498.28" r="2.25"/><circle cx="517.95" cy="493.80" r="2.25"/><circle cx="516.30" cy="486.01" r="2.25"/><circle cx="520.05" cy="507.82" r="2.25"/><circle cx="514.36" cy="487.02" r="2.25"/><circle cx="517.24" cy="512.00" r="2.25"/><circle cx="519.88" cy="494.89" r="2.25"/><circle cx="517.63" cy="499.27" r="2.25"/><circle cx="519.24" cy="490.61" r="2.25"/><circle cx="519.63" cy="499.46" r="2.25"/><circle cx="516.30" cy="519.01" r="2.25"/><circle cx="512.57" cy="494.52" r="2.25"/><circle cx="512.72" cy="489.42" r="2.25"/><circle cx="516.30" cy="503.32" r="2.25"/><circle cx="514.35" cy="518.08" r="2.25"/><circle cx="516.30" cy="524.22" r="2.25"/><circle cx="513.81" cy="504.54" r="2.25"/><circle cx="511.87" cy="505.60" r="2.25"/><circle cx="512.37" cy="498.66" r="2.25"/><circle cx="512.53" cy="510.51" r="2.25"/><circle cx="518.01" cy="521.18" r="2.25"/><circle cx="519.95" cy="520.10" r="2.25"/><circle cx="521.84" cy="509.71" r="2.25"/><circle cx="521.32" cy="491.99" r="2.25"/><circle cx="521.59" cy="500.33" r="2.25"/><circle cx="510.02" cy="507.23" r="2.25"/><circle cx="510.50" cy="500.15" r="2.25"/><circle cx="518.45" cy="515.33" r="2.25"/><circle cx="521.42" cy="504.78" r="2.25"/><circle cx="520.43" cy="487.27" r="2.25"/><circle cx="512.36" cy="518.68" r="2.25"/><circle cx="510.64" cy="493.41" r="2.25"/><circle cx="523.57" cy="499.64" r="2.25"/><circle cx="514.53" cy="522.26" r="2.25"/><circle cx="521.95" cy="519.81" r="2.25"/><circle cx="515.26" cy="512.58" r="2.25"/><circle cx="523.09" cy="490.04" r="2.25"/><circle cx="508.76" cy="502.24" r="2.25"/><circle cx="507.93" cy="498.45" r="2.25"/><circle cx="523.41" cy="504.26" r="2.25"/><circle cx="508.68" cy="492.49" r="2.25"/><circle cx="522.22" cy="495.71" r="2.25"/><circle cx="525.05" cy="490.88" r="2.25"/><circle cx="523.83" cy="509.25" r="2.25"/><circle cx="518.57" cy="525.17" r="2.25"/><circle cx="510.61" cy="511.75" r="2.25"/><circle cx="510.62" cy="516.63" r="2.25"/><circle cx="516.30" cy="458.71" r="2.25"/><circle cx="508.18" cy="508.83" r="2.25"/><circle cx="525.36" cy="505.21" r="2.25"/><circle cx="514.64" cy="526.54" r="2.25"/><circle cx="516.30" cy="453.39" r="2.25"/><circle cx="524.98" cy="496.69" r="2.25"/><circle cx="506.05" cy="497.02" r="2.25"/><circle cx="506.76" cy="502.51" r="2.25"/><circle cx="510.74" cy="488.78" r="2.25"/><circle cx="525.49" cy="500.81" r="2.25"/><circle cx="527.49" cy="501.08" r="2.25"/><circle cx="520.35" cy="514.02" r="2.25"/><circle cx="522.54" cy="513.61" r="2.25"/><circle cx="504.87" cy="503.84" r="2.25"/><circle cx="516.30" cy="466.03" r="2.25"/><circle cx="513.42" cy="514.39" r="2.25"/><circle cx="523.66" cy="517.66" r="2.25"/><circle cx="529.30" cy="502.86" r="2.25"/><circle cx="508.69" cy="512.92" r="2.25"/><circle cx="512.65" cy="527.05" r="2.25"/><circle cx="526.87" cy="495.31" r="2.25"/><circle cx="516.30" cy="528.89" r="2.25"/><circle cx="525.38" cy="515.54" r="2.25"/></g><line x1="463.3" y1="505.2" x2="489.3" y2="505.2" stroke="#000" stroke-width="1.3"/><path d="M470.3,503.2H482.3M470.3,507.2H482.3M476.3,503.2V507.2" stroke="#222" stroke-width="0.7" fill="none" opacity="0.8"/><line x1="503.3" y1="504.8" x2="529.3" y2="504.8" stroke="#000" stroke-width="1.3"/><path d="M510.3,502.8H522.3M510.3,506.8H522.3M516.3,502.8V506.8" stroke="#222" stroke-width="0.7" fill="none" opacity="0.8"/><g stroke="#999" stroke-width="0.9" fill="none"><path d="M582.5,422.8V562H676.8"/><path d="M577.9,555.80H582.5"/><path d="M577.9,522.55H582.5"/><path d="M577.9,489.30H582.5"/><path d="M577.9,456.05H582.5"/><path d="M577.9,422.80H582.5"/><path d="M609.3,562v5M649.3,562v5"/></g><g font-size="8.5" fill="#3a3a3a" text-anchor="end"><text x="572.8" y="558.60">500</text><text x="572.8" y="525.35">1,000</text><text x="572.8" y="492.10">1,500</text><text x="572.8" y="458.85">2,000</text><text x="572.8" y="425.60">2,500</text></g><g font-size="10" fill="#3a3a3a" text-anchor="middle"><text x="609.3" y="579">Control</text><text x="649.3" y="579">GBM</text></g><g fill="#646464"><circle cx="609.30" cy="510.02" r="2.25"/><circle cx="609.30" cy="528.63" r="2.25"/><circle cx="609.30" cy="520.26" r="2.25"/><circle cx="608.17" cy="513.85" r="2.25"/><circle cx="609.30" cy="537.18" r="2.25"/><circle cx="609.30" cy="501.48" r="2.25"/><circle cx="612.17" cy="510.55" r="2.25"/><circle cx="608.45" cy="505.46" r="2.25"/><circle cx="610.76" cy="515.70" r="2.25"/><circle cx="606.52" cy="521.42" r="2.25"/><circle cx="606.41" cy="501.29" r="2.25"/><circle cx="612.70" cy="518.79" r="2.25"/><circle cx="611.57" cy="522.84" r="2.25"/><circle cx="611.75" cy="503.70" r="2.25"/><circle cx="604.78" cy="518.08" r="2.25"/><circle cx="605.95" cy="511.17" r="2.25"/><circle cx="613.49" cy="514.29" r="2.25"/><circle cx="605.56" cy="505.65" r="2.25"/><circle cx="608.43" cy="541.16" r="2.25"/><circle cx="615.51" cy="517.27" r="2.25"/><circle cx="614.62" cy="504.24" r="2.25"/><circle cx="603.20" cy="514.60" r="2.25"/><circle cx="611.81" cy="499.41" r="2.25"/><circle cx="615.82" cy="511.81" r="2.25"/><circle cx="602.13" cy="519.76" r="2.25"/><circle cx="609.30" cy="548.98" r="2.25"/><circle cx="603.56" cy="500.49" r="2.25"/><circle cx="617.22" cy="502.40" r="2.25"/><circle cx="600.65" cy="512.62" r="2.25"/><circle cx="600.88" cy="502.05" r="2.25"/><circle cx="609.30" cy="479.13" r="2.25"/><circle cx="604.30" cy="524.09" r="2.25"/><circle cx="603.51" cy="508.58" r="2.25"/><circle cx="609.30" cy="485.31" r="2.25"/><circle cx="606.45" cy="478.38" r="2.25"/><circle cx="607.79" cy="532.18" r="2.25"/><circle cx="619.56" cy="504.86" r="2.25"/><circle cx="600.93" cy="506.69" r="2.25"/><circle cx="619.81" cy="500.54" r="2.25"/><circle cx="618.14" cy="515.55" r="2.25"/><circle cx="606.44" cy="549.63" r="2.25"/><circle cx="611.82" cy="481.17" r="2.25"/><circle cx="599.30" cy="516.30" r="2.25"/><circle cx="611.76" cy="546.79" r="2.25"/><circle cx="618.05" cy="509.17" r="2.25"/><circle cx="598.29" cy="508.41" r="2.25"/><circle cx="619.84" cy="518.92" r="2.25"/><circle cx="614.73" cy="500.08" r="2.25"/><circle cx="605.16" cy="482.11" r="2.25"/><circle cx="620.61" cy="513.37" r="2.25"/><circle cx="622.30" cy="506.19" r="2.25"/></g><g fill="#ff0000"><circle cx="649.30" cy="459.77" r="2.25"/><circle cx="649.30" cy="484.39" r="2.25"/><circle cx="649.30" cy="492.23" r="2.25"/><circle cx="649.30" cy="498.73" r="2.25"/><circle cx="649.30" cy="517.43" r="2.25"/><circle cx="647.03" cy="493.10" r="2.25"/><circle cx="649.30" cy="510.45" r="2.25"/><circle cx="651.44" cy="497.12" r="2.25"/><circle cx="647.89" cy="481.09" r="2.25"/><circle cx="651.44" cy="490.62" r="2.25"/><circle cx="649.30" cy="526.30" r="2.25"/><circle cx="649.30" cy="476.00" r="2.25"/><circle cx="647.51" cy="507.81" r="2.25"/><circle cx="647.81" cy="501.91" r="2.25"/><circle cx="647.78" cy="514.29" r="2.25"/><circle cx="651.29" cy="482.25" r="2.25"/><circle cx="647.43" cy="523.84" r="2.25"/><circle cx="649.30" cy="537.12" r="2.25"/><circle cx="650.61" cy="513.89" r="2.25"/><circle cx="652.57" cy="511.68" r="2.25"/><circle cx="648.91" cy="530.40" r="2.25"/><circle cx="650.07" cy="502.78" r="2.25"/><circle cx="645.58" cy="510.14" r="2.25"/><circle cx="650.80" cy="506.74" r="2.25"/><circle cx="645.37" cy="490.19" r="2.25"/><circle cx="648.25" cy="488.52" r="2.25"/><circle cx="652.88" cy="487.36" r="2.25"/><circle cx="651.33" cy="528.32" r="2.25"/><circle cx="650.75" cy="523.05" r="2.25"/><circle cx="652.37" cy="503.43" r="2.25"/><circle cx="654.27" cy="508.83" r="2.25"/><circle cx="645.71" cy="500.13" r="2.25"/><circle cx="645.25" cy="495.76" r="2.25"/><circle cx="645.98" cy="504.68" r="2.25"/><circle cx="653.72" cy="496.33" r="2.25"/><circle cx="643.32" cy="511.08" r="2.25"/><circle cx="654.12" cy="500.70" r="2.25"/><circle cx="656.58" cy="508.70" r="2.25"/><circle cx="645.84" cy="526.87" r="2.25"/><circle cx="643.41" cy="500.63" r="2.25"/><circle cx="643.22" cy="493.74" r="2.25"/><circle cx="652.68" cy="520.74" r="2.25"/><circle cx="656.37" cy="501.69" r="2.25"/><circle cx="641.11" cy="501.26" r="2.25"/><circle cx="656.03" cy="496.67" r="2.25"/><circle cx="658.09" cy="498.89" r="2.25"/><circle cx="641.02" cy="511.50" r="2.25"/><circle cx="640.27" cy="497.38" r="2.25"/><circle cx="647.20" cy="519.19" r="2.25"/><circle cx="645.56" cy="515.49" r="2.25"/><circle cx="654.63" cy="518.49" r="2.25"/><circle cx="642.54" cy="507.16" r="2.25"/><circle cx="640.26" cy="506.39" r="2.25"/><circle cx="644.88" cy="519.47" r="2.25"/><circle cx="643.00" cy="521.91" r="2.25"/><circle cx="653.28" cy="524.76" r="2.25"/><circle cx="654.69" cy="528.07" r="2.25"/><circle cx="655.57" cy="524.13" r="2.25"/><circle cx="657.33" cy="521.42" r="2.25"/><circle cx="644.01" cy="529.44" r="2.25"/><circle cx="660.37" cy="498.12" r="2.25"/><circle cx="657.94" cy="512.09" r="2.25"/><circle cx="650.67" cy="533.11" r="2.25"/><circle cx="644.21" cy="486.58" r="2.25"/><circle cx="655.19" cy="487.72" r="2.25"/><circle cx="655.40" cy="512.46" r="2.25"/><circle cx="654.84" cy="492.69" r="2.25"/><circle cx="640.70" cy="522.57" r="2.25"/><circle cx="657.92" cy="505.30" r="2.25"/><circle cx="638.98" cy="502.93" r="2.25"/><circle cx="659.65" cy="508.07" r="2.25"/><circle cx="637.54" cy="506.20" r="2.25"/><circle cx="660.09" cy="503.87" r="2.25"/><circle cx="638.23" cy="495.38" r="2.25"/><circle cx="657.11" cy="491.80" r="2.25"/><circle cx="642.81" cy="517.60" r="2.25"/><circle cx="658.95" cy="494.32" r="2.25"/><circle cx="636.30" cy="497.68" r="2.25"/><circle cx="647.07" cy="535.96" r="2.25"/><circle cx="640.20" cy="518.51" r="2.25"/><circle cx="645.71" cy="479.64" r="2.25"/><circle cx="652.47" cy="516.36" r="2.25"/><circle cx="636.69" cy="502.21" r="2.25"/><circle cx="647.65" cy="462.70" r="2.25"/><circle cx="649.30" cy="466.03" r="2.25"/><circle cx="641.40" cy="491.16" r="2.25"/><circle cx="646.97" cy="484.92" r="2.25"/><circle cx="652.96" cy="533.76" r="2.25"/><circle cx="638.85" cy="512.98" r="2.25"/><circle cx="662.24" cy="505.47" r="2.25"/><circle cx="660.11" cy="513.56" r="2.25"/><circle cx="656.74" cy="516.75" r="2.25"/><circle cx="637.18" cy="515.87" r="2.25"/></g><line x1="596.3" y1="512.3" x2="622.3" y2="512.3" stroke="#000" stroke-width="1.3"/><path d="M603.3,510.3H615.3M603.3,514.3H615.3M609.3,510.3V514.3" stroke="#222" stroke-width="0.7" fill="none" opacity="0.8"/><line x1="636.3" y1="509.3" x2="662.3" y2="509.3" stroke="#000" stroke-width="1.3"/><path d="M643.3,507.3H655.3M643.3,511.3H655.3M649.3,507.3V511.3" stroke="#222" stroke-width="0.7" fill="none" opacity="0.8"/><text x="0" y="604.1" font-size="13.8" font-weight="bold" fill="#000">e</text><rect x="39.62" y="604.10" width="180.66" height="135.33" fill="none" stroke="#999" stroke-width="0.9"/><line x1="39.62" y1="713.24" x2="220.28" y2="649.10" stroke="#d9404a" stroke-width="1.1"/><g fill="#000"><circle cx="47.68" cy="615.86" r="1.25"/><circle cx="113.50" cy="611.16" r="1.25"/><circle cx="166.55" cy="609.81" r="1.25"/><circle cx="213.90" cy="624.59" r="1.25"/><circle cx="132.98" cy="638.69" r="1.25"/><circle cx="184.02" cy="667.57" r="1.25"/><circle cx="139.02" cy="681.00" r="1.25"/><circle cx="110.81" cy="692.08" r="1.25"/><circle cx="97.04" cy="704.51" r="1.25"/><circle cx="116.86" cy="704.51" r="1.25"/><circle cx="118.20" cy="707.19" r="1.25"/><circle cx="136.00" cy="703.16" r="1.25"/><circle cx="95.37" cy="713.91" r="1.25"/><circle cx="59.10" cy="727.68" r="1.25"/><circle cx="76.90" cy="727.68" r="1.25"/><circle cx="122.23" cy="724.99" r="1.25"/><circle cx="144.39" cy="727.68" r="1.25"/><circle cx="112.49" cy="734.73" r="1.25"/></g><g stroke="#888" stroke-width="0.9"><line x1="35.82" y1="720.96" x2="39.62" y2="720.96"/><line x1="35.82" y1="693.51" x2="39.62" y2="693.51"/><line x1="35.82" y1="666.06" x2="39.62" y2="666.06"/><line x1="35.82" y1="638.61" x2="39.62" y2="638.61"/><line x1="35.82" y1="611.16" x2="39.62" y2="611.16"/><line x1="39.62" y1="739.43" x2="39.62" y2="742.63"/><line x1="69.73" y1="739.43" x2="69.73" y2="742.63"/><line x1="99.85" y1="739.43" x2="99.85" y2="742.63"/><line x1="129.96" y1="739.43" x2="129.96" y2="742.63"/><line x1="160.07" y1="739.43" x2="160.07" y2="742.63"/><line x1="190.18" y1="739.43" x2="190.18" y2="742.63"/><line x1="220.29" y1="739.43" x2="220.29" y2="742.63"/></g><g font-size="8.3" fill="#3a3a3a"><text x="32.02" y="723.96" text-anchor="end">20</text><text x="32.02" y="696.51" text-anchor="end">40</text><text x="32.02" y="669.06" text-anchor="end">60</text><text x="32.02" y="641.61" text-anchor="end">80</text><text x="32.02" y="614.16" text-anchor="end">100</text><text x="39.62" y="753.73" text-anchor="middle">4</text><text x="69.73" y="753.73" text-anchor="middle">5</text><text x="99.85" y="753.73" text-anchor="middle">6</text><text x="129.96" y="753.73" text-anchor="middle">7</text><text x="160.07" y="753.73" text-anchor="middle">8</text><text x="190.18" y="753.73" text-anchor="middle">9</text><text x="220.29" y="753.73" text-anchor="middle">10</text></g><text x="129.95" y="768.43" font-size="10" fill="#3a3a3a" text-anchor="middle">Thickness bregma (average)</text><text transform="translate(12.30,671.77) rotate(-90)" font-size="10" fill="#3a3a3a" text-anchor="middle">Tumor volume (cm<tspan font-size="6.5" dy="-3.5">3</tspan><tspan dy="3.5">)</tspan></text><rect x="269.33" y="604.10" width="177.97" height="132.98" fill="none" stroke="#999" stroke-width="0.9"/><line x1="269.33" y1="693.09" x2="447.30" y2="683.35" stroke="#d9404a" stroke-width="1.1"/><g fill="#000"><circle cx="275.37" cy="668.24" r="1.25"/><circle cx="382.82" cy="609.81" r="1.25"/><circle cx="407.00" cy="608.47" r="1.25"/><circle cx="412.37" cy="623.92" r="1.25"/><circle cx="358.98" cy="638.35" r="1.25"/><circle cx="386.85" cy="682.34" r="1.25"/><circle cx="409.35" cy="690.74" r="1.25"/><circle cx="361.67" cy="693.76" r="1.25"/><circle cx="341.19" cy="706.52" r="1.25"/><circle cx="338.50" cy="716.60" r="1.25"/><circle cx="395.58" cy="706.52" r="1.25"/><circle cx="393.23" cy="709.21" r="1.25"/><circle cx="440.92" cy="705.18" r="1.25"/><circle cx="361.33" cy="730.70" r="1.25"/><circle cx="370.06" cy="730.70" r="1.25"/><circle cx="395.58" cy="728.01" r="1.25"/><circle cx="405.32" cy="730.70" r="1.25"/></g><g stroke="#888" stroke-width="0.9"><line x1="265.53" y1="723.31" x2="269.33" y2="723.31"/><line x1="265.53" y1="695.02" x2="269.33" y2="695.02"/><line x1="265.53" y1="666.73" x2="269.33" y2="666.73"/><line x1="265.53" y1="638.44" x2="269.33" y2="638.44"/><line x1="265.53" y1="610.15" x2="269.33" y2="610.15"/><line x1="276.04" y1="737.08" x2="276.04" y2="740.28"/><line x1="306.16" y1="737.08" x2="306.16" y2="740.28"/><line x1="336.28" y1="737.08" x2="336.28" y2="740.28"/><line x1="366.40" y1="737.08" x2="366.40" y2="740.28"/><line x1="396.52" y1="737.08" x2="396.52" y2="740.28"/><line x1="426.65" y1="737.08" x2="426.65" y2="740.28"/></g><g font-size="8.3" fill="#3a3a3a"><text x="261.73" y="726.31" text-anchor="end">20</text><text x="261.73" y="698.02" text-anchor="end">40</text><text x="261.73" y="669.73" text-anchor="end">60</text><text x="261.73" y="641.44" text-anchor="end">80</text><text x="261.73" y="613.15" text-anchor="end">100</text><text x="276.04" y="751.38" text-anchor="middle">0</text><text x="306.16" y="751.38" text-anchor="middle">2</text><text x="336.28" y="751.38" text-anchor="middle">4</text><text x="366.40" y="751.38" text-anchor="middle">6</text><text x="396.52" y="751.38" text-anchor="middle">8</text><text x="426.65" y="751.38" text-anchor="middle">10</text></g><text x="358.31" y="766.08" font-size="10" fill="#3a3a3a" text-anchor="middle">Bregma R mid-orbital (average)</text><text transform="translate(240.30,670.59) rotate(-90)" font-size="10" fill="#3a3a3a" text-anchor="middle">Tumor volume (cm<tspan font-size="6.5" dy="-3.5">3</tspan><tspan dy="3.5">)</tspan></text><rect x="499.33" y="604.10" width="178.31" height="132.98" fill="none" stroke="#999" stroke-width="0.9"/><line x1="499.33" y1="679.66" x2="677.63" y2="685.37" stroke="#d9404a" stroke-width="1.1"/><g fill="#000"><circle cx="505.37" cy="614.51" r="1.25"/><circle cx="511.08" cy="637.35" r="1.25"/><circle cx="515.44" cy="702.49" r="1.25"/><circle cx="541.30" cy="712.23" r="1.25"/><circle cx="555.40" cy="726.00" r="1.25"/><circle cx="573.87" cy="679.32" r="1.25"/><circle cx="587.64" cy="732.71" r="1.25"/><circle cx="592.34" cy="702.49" r="1.25"/><circle cx="596.37" cy="690.07" r="1.25"/><circle cx="598.72" cy="726.00" r="1.25"/><circle cx="602.41" cy="609.81" r="1.25"/><circle cx="615.17" cy="705.18" r="1.25"/><circle cx="619.88" cy="723.31" r="1.25"/><circle cx="625.25" cy="726.00" r="1.25"/><circle cx="639.35" cy="608.47" r="1.25"/><circle cx="640.70" cy="665.89" r="1.25"/><circle cx="648.42" cy="623.24" r="1.25"/><circle cx="660.51" cy="687.38" r="1.25"/><circle cx="670.58" cy="701.15" r="1.25"/></g><g stroke="#888" stroke-width="0.9"><line x1="495.53" y1="719.28" x2="499.33" y2="719.28"/><line x1="495.53" y1="692.00" x2="499.33" y2="692.00"/><line x1="495.53" y1="664.71" x2="499.33" y2="664.71"/><line x1="495.53" y1="637.43" x2="499.33" y2="637.43"/><line x1="495.53" y1="610.15" x2="499.33" y2="610.15"/><line x1="514.77" y1="737.08" x2="514.77" y2="740.28"/><line x1="541.52" y1="737.08" x2="541.52" y2="740.28"/><line x1="568.28" y1="737.08" x2="568.28" y2="740.28"/><line x1="595.03" y1="737.08" x2="595.03" y2="740.28"/><line x1="621.78" y1="737.08" x2="621.78" y2="740.28"/><line x1="648.54" y1="737.08" x2="648.54" y2="740.28"/><line x1="675.29" y1="737.08" x2="675.29" y2="740.28"/></g><g font-size="8.3" fill="#3a3a3a"><text x="491.73" y="722.28" text-anchor="end">20</text><text x="491.73" y="695.00" text-anchor="end">40</text><text x="491.73" y="667.71" text-anchor="end">60</text><text x="491.73" y="640.43" text-anchor="end">80</text><text x="491.73" y="613.15" text-anchor="end">100</text><text x="514.77" y="751.38" text-anchor="middle">4</text><text x="541.52" y="751.38" text-anchor="middle">5</text><text x="568.28" y="751.38" text-anchor="middle">6</text><text x="595.03" y="751.38" text-anchor="middle">7</text><text x="621.78" y="751.38" text-anchor="middle">8</text><text x="648.54" y="751.38" text-anchor="middle">9</text><text x="675.29" y="751.38" text-anchor="middle">10</text></g><text x="588.48" y="766.08" font-size="10" fill="#3a3a3a" text-anchor="middle">Bregma L mid-orbital (average)</text><text transform="translate(470.30,670.59) rotate(-90)" font-size="10" fill="#3a3a3a" text-anchor="middle">Tumor volume (cm<tspan font-size="6.5" dy="-3.5">3</tspan><tspan dy="3.5">)</tspan></text><rect x="39.62" y="783.43" width="180.66" height="134.32" fill="none" stroke="#999" stroke-width="0.9"/><line x1="39.62" y1="880.48" x2="220.28" y2="849.92" stroke="#d9404a" stroke-width="1.1"/><g fill="#000"><circle cx="46.00" cy="863.69" r="1.25"/><circle cx="82.27" cy="793.84" r="1.25"/><circle cx="90.66" cy="906.67" r="1.25"/><circle cx="91.34" cy="883.16" r="1.25"/><circle cx="97.04" cy="883.16" r="1.25"/><circle cx="115.85" cy="892.90" r="1.25"/><circle cx="115.85" cy="913.72" r="1.25"/><circle cx="121.89" cy="845.89" r="1.25"/><circle cx="123.57" cy="802.57" r="1.25"/><circle cx="124.92" cy="885.85" r="1.25"/><circle cx="130.29" cy="870.74" r="1.25"/><circle cx="146.07" cy="906.67" r="1.25"/><circle cx="156.48" cy="903.98" r="1.25"/><circle cx="164.20" cy="787.46" r="1.25"/><circle cx="171.59" cy="816.68" r="1.25"/><circle cx="179.65" cy="868.05" r="1.25"/><circle cx="213.57" cy="859.66" r="1.25"/></g><g stroke="#888" stroke-width="0.9"><line x1="35.82" y1="899.95" x2="39.62" y2="899.95"/><line x1="35.82" y1="872.25" x2="39.62" y2="872.25"/><line x1="35.82" y1="844.55" x2="39.62" y2="844.55"/><line x1="35.82" y1="816.84" x2="39.62" y2="816.84"/><line x1="35.82" y1="789.14" x2="39.62" y2="789.14"/><line x1="47.35" y1="917.75" x2="47.35" y2="920.95"/><line x1="75.55" y1="917.75" x2="75.55" y2="920.95"/><line x1="103.76" y1="917.75" x2="103.76" y2="920.95"/><line x1="131.97" y1="917.75" x2="131.97" y2="920.95"/><line x1="160.17" y1="917.75" x2="160.17" y2="920.95"/><line x1="188.38" y1="917.75" x2="188.38" y2="920.95"/><line x1="216.59" y1="917.75" x2="216.59" y2="920.95"/></g><g font-size="8.3" fill="#3a3a3a"><text x="32.02" y="902.95" text-anchor="end">20</text><text x="32.02" y="875.25" text-anchor="end">40</text><text x="32.02" y="847.55" text-anchor="end">60</text><text x="32.02" y="819.84" text-anchor="end">80</text><text x="32.02" y="792.14" text-anchor="end">100</text><text x="47.35" y="932.05" text-anchor="middle">5</text><text x="75.55" y="932.05" text-anchor="middle">6</text><text x="103.76" y="932.05" text-anchor="middle">7</text><text x="131.97" y="932.05" text-anchor="middle">8</text><text x="160.17" y="932.05" text-anchor="middle">9</text><text x="188.38" y="932.05" text-anchor="middle">10</text><text x="216.59" y="932.05" text-anchor="middle">11</text></g><text x="129.95" y="946.75" font-size="10" fill="#3a3a3a" text-anchor="middle">Lambda (average)</text><text transform="translate(12.30,850.59) rotate(-90)" font-size="10" fill="#3a3a3a" text-anchor="middle">Tumor volume (cm<tspan font-size="6.5" dy="-3.5">3</tspan><tspan dy="3.5">)</tspan></text><rect x="271.34" y="784.44" width="180.66" height="135.33" fill="none" stroke="#999" stroke-width="0.9"/><line x1="271.34" y1="872.08" x2="452.00" y2="851.93" stroke="#d9404a" stroke-width="1.1"/><g fill="#000"><circle cx="277.05" cy="847.23" r="1.25"/><circle cx="289.47" cy="905.33" r="1.25"/><circle cx="296.19" cy="790.15" r="1.25"/><circle cx="296.19" cy="865.37" r="1.25"/><circle cx="306.60" cy="884.51" r="1.25"/><circle cx="315.33" cy="883.16" r="1.25"/><circle cx="318.35" cy="884.51" r="1.25"/><circle cx="320.03" cy="887.19" r="1.25"/><circle cx="327.42" cy="908.01" r="1.25"/><circle cx="328.43" cy="803.92" r="1.25"/><circle cx="330.78" cy="872.08" r="1.25"/><circle cx="342.86" cy="908.01" r="1.25"/><circle cx="350.92" cy="795.18" r="1.25"/><circle cx="352.27" cy="915.06" r="1.25"/><circle cx="354.28" cy="818.02" r="1.25"/><circle cx="368.05" cy="860.66" r="1.25"/><circle cx="379.80" cy="894.24" r="1.25"/><circle cx="399.61" cy="908.01" r="1.25"/><circle cx="424.80" cy="869.40" r="1.25"/><circle cx="445.28" cy="788.80" r="1.25"/></g><g stroke="#888" stroke-width="0.9"><line x1="267.54" y1="900.96" x2="271.34" y2="900.96"/><line x1="267.54" y1="873.26" x2="271.34" y2="873.26"/><line x1="267.54" y1="845.55" x2="271.34" y2="845.55"/><line x1="267.54" y1="817.85" x2="271.34" y2="817.85"/><line x1="267.54" y1="790.15" x2="271.34" y2="790.15"/><line x1="283.76" y1="919.76" x2="283.76" y2="922.96"/><line x1="309.12" y1="919.76" x2="309.12" y2="922.96"/><line x1="334.47" y1="919.76" x2="334.47" y2="922.96"/><line x1="359.82" y1="919.76" x2="359.82" y2="922.96"/><line x1="385.17" y1="919.76" x2="385.17" y2="922.96"/><line x1="410.53" y1="919.76" x2="410.53" y2="922.96"/><line x1="435.88" y1="919.76" x2="435.88" y2="922.96"/></g><g font-size="8.3" fill="#3a3a3a"><text x="263.74" y="903.96" text-anchor="end">20</text><text x="263.74" y="876.26" text-anchor="end">40</text><text x="263.74" y="848.55" text-anchor="end">60</text><text x="263.74" y="820.85" text-anchor="end">80</text><text x="263.74" y="793.15" text-anchor="end">100</text><text x="283.76" y="934.06" text-anchor="middle">5</text><text x="309.12" y="934.06" text-anchor="middle">6</text><text x="334.47" y="934.06" text-anchor="middle">7</text><text x="359.82" y="934.06" text-anchor="middle">8</text><text x="385.17" y="934.06" text-anchor="middle">9</text><text x="410.53" y="934.06" text-anchor="middle">10</text><text x="435.88" y="934.06" text-anchor="middle">11</text></g><text x="361.67" y="948.76" font-size="10" fill="#3a3a3a" text-anchor="middle">Mid-occipital (average)</text><text transform="translate(242.00,852.10) rotate(-90)" font-size="10" fill="#3a3a3a" text-anchor="middle">Tumor volume (cm<tspan font-size="6.5" dy="-3.5">3</tspan><tspan dy="3.5">)</tspan></text><rect x="470.8" y="785.2" width="215.2" height="27.5" fill="#4472c4"/><rect x="470.8" y="812.7" width="215.2" height="27.59999999999991" fill="#d9e2f3"/><rect x="470.8" y="840.3" width="215.2" height="26.600000000000023" fill="#ffffff"/><rect x="470.8" y="866.9" width="215.2" height="26.800000000000068" fill="#d9e2f3"/><rect x="470.8" y="893.7" width="215.2" height="27.299999999999955" fill="#ffffff"/><rect x="470.8" y="921.0" width="215.2" height="27.0" fill="#d9e2f3"/><g stroke="#b4c6e7" stroke-width="0.8" fill="none"><line x1="470.8" y1="812.7" x2="686" y2="812.7"/><line x1="470.8" y1="840.3" x2="686" y2="840.3"/><line x1="470.8" y1="866.9" x2="686" y2="866.9"/><line x1="470.8" y1="893.7" x2="686" y2="893.7"/><line x1="470.8" y1="921.0" x2="686" y2="921.0"/><line x1="470.8" y1="948.0" x2="686" y2="948.0"/><line x1="470.8" y1="785.2" x2="470.8" y2="948.0"/><line x1="610.1" y1="785.2" x2="610.1" y2="948.0"/></g><g font-size="8.3" fill="#eef3fb"><text x="540.5" y="801.6" text-anchor="middle">Thickness measurement area</text><text x="648" y="801.6" text-anchor="middle"><tspan font-style="italic">P</tspan> value</text></g><g font-size="8.6" fill="#222"><text x="479.6" y="830.0">Bregma</text><text x="648" y="830.0" text-anchor="middle">0.18</text><text x="479.6" y="857.1">Bregma to mid-orbital left side</text><text x="648" y="857.1" text-anchor="middle">0.83</text><text x="479.6" y="883.8">Bregma to mid-orbital right side</text><text x="648" y="883.8" text-anchor="middle">0.85</text><text x="479.6" y="910.9">Lambda</text><text x="648" y="910.9" text-anchor="middle">0.49</text><text x="479.6" y="938.0">Mid-occipital</text><text x="648" y="938.0" text-anchor="middle">0.62</text></g><rect x="29.1" y="5.7" width="132.4" height="178.8" fill="#000"/><g clip-path="url(#ca1)"><path d="M52.0,157.0C51.4,155.8 49.6,152.7 48.5,150.0C47.4,147.3 46.5,144.7 45.5,141.0C44.5,137.3 43.5,132.8 42.8,128.0C42.1,123.2 41.6,117.1 41.2,112.0C40.8,106.9 40.6,102.7 40.6,97.4C40.6,92.1 40.4,85.4 41.5,80.1C42.6,74.8 44.1,70.1 47.5,65.5C50.9,60.9 56.9,55.9 62.0,52.5C67.1,49.1 72.6,46.8 78.0,45.0C83.4,43.2 88.8,42.0 94.5,41.9C100.2,41.8 106.2,42.9 112.0,44.5C117.8,46.1 124.1,48.1 129.2,51.5C134.3,54.9 139.5,59.9 142.7,64.7C145.9,69.5 147.4,74.6 148.5,80.1C149.6,85.5 149.2,92.1 149.4,97.4C149.6,102.7 149.6,107.1 149.5,112.0C149.4,116.9 149.3,122.3 149.0,127.0C148.7,131.7 148.1,136.2 147.5,140.0C146.9,143.8 146.2,147.2 145.5,150.0C144.8,152.8 143.4,155.8 143.0,157.0L140,158 L125,160 L110,161 L95,160.5 L80,160 L62,158 L53,157Z" fill="url(#a1v)"/><rect x="38" y="40" width="114" height="82" fill="url(#stri)" mask="url(#mStri)"/><path d="M52.0,157.0C51.4,155.8 49.6,152.7 48.5,150.0C47.4,147.3 46.5,144.7 45.5,141.0C44.5,137.3 43.5,132.8 42.8,128.0C42.1,123.2 41.6,117.1 41.2,112.0C40.8,106.9 40.6,102.7 40.6,97.4C40.6,92.1 40.4,85.4 41.5,80.1C42.6,74.8 44.1,70.1 47.5,65.5C50.9,60.9 56.9,55.9 62.0,52.5C67.1,49.1 72.6,46.8 78.0,45.0C83.4,43.2 88.8,42.0 94.5,41.9C100.2,41.8 106.2,42.9 112.0,44.5C117.8,46.1 124.1,48.1 129.2,51.5C134.3,54.9 139.5,59.9 142.7,64.7C145.9,69.5 147.4,74.6 148.5,80.1C149.6,85.5 149.2,92.1 149.4,97.4C149.6,102.7 149.6,107.1 149.5,112.0C149.4,116.9 149.3,122.3 149.0,127.0C148.7,131.7 148.1,136.2 147.5,140.0C146.9,143.8 146.2,147.2 145.5,150.0C144.8,152.8 143.4,155.8 143.0,157.0L140,158 L125,160 L110,161 L95,160.5 L80,160 L62,158 L53,157Z" fill="url(#sideDark)"/><ellipse cx="95" cy="124" rx="42" ry="10" fill="url(#glow)"/><path d="M40,95 Q48,110 52,125 Q56,138 55,146 L46,146 Q42,125 40,100Z" fill="#000" opacity="0.35" filter="url(#bl2)"/><path d="M150,95 Q142,110 138,125 Q135,138 136,146 L147,146 Q150,125 150,100Z" fill="#000" opacity="0.35" filter="url(#bl2)"/><path d="M55,100 Q70,80 95,72 Q120,78 138,98" stroke="#000" stroke-opacity="0.07" stroke-width="0.8" fill="none"/><path d="M46,142 L150,142 L150,162 L46,162Z" fill="#a2a2a2"/><path d="M46,142.4 H150" stroke="#707070" stroke-width="1"/><circle cx="111.4" cy="143.4" r="0.67" fill="#808080"/><circle cx="63.4" cy="144.7" r="0.94" fill="#555"/><circle cx="58.3" cy="150.2" r="0.52" fill="#808080"/><circle cx="72.3" cy="153.2" r="0.84" fill="#555"/><circle cx="90.3" cy="150.6" r="0.67" fill="#6a6a6a"/><circle cx="122.8" cy="145.7" r="0.75" fill="#b8b8b8"/><circle cx="64.9" cy="159.3" r="0.70" fill="#6a6a6a"/><circle cx="86.5" cy="149.1" r="0.71" fill="#b8b8b8"/><circle cx="127.5" cy="155.4" r="0.82" fill="#c8c8c8"/><circle cx="57.6" cy="148.0" r="0.88" fill="#b8b8b8"/><circle cx="105.4" cy="155.0" r="0.53" fill="#808080"/><circle cx="124.2" cy="159.7" r="1.01" fill="#6a6a6a"/><circle cx="86.5" cy="150.7" r="1.00" fill="#808080"/><circle cx="85.5" cy="146.6" r="0.66" fill="#6a6a6a"/><circle cx="108.5" cy="145.9" r="0.94" fill="#808080"/><circle cx="94.4" cy="147.6" r="1.06" fill="#555"/><circle cx="71.1" cy="148.5" r="0.96" fill="#6a6a6a"/><circle cx="72.0" cy="143.5" r="0.69" fill="#b8b8b8"/><circle cx="56.4" cy="158.5" r="0.84" fill="#b8b8b8"/><circle cx="70.4" cy="151.5" r="1.03" fill="#c8c8c8"/><circle cx="63.7" cy="145.4" r="0.95" fill="#555"/><circle cx="75.2" cy="152.9" r="1.04" fill="#c8c8c8"/><circle cx="84.8" cy="160.0" r="0.58" fill="#c8c8c8"/><circle cx="58.7" cy="143.8" r="0.57" fill="#808080"/><circle cx="126.0" cy="150.2" r="0.54" fill="#c8c8c8"/><circle cx="107.2" cy="151.0" r="0.65" fill="#555"/><circle cx="132.6" cy="143.2" r="0.93" fill="#555"/><circle cx="122.1" cy="156.1" r="0.70" fill="#b8b8b8"/><circle cx="91.7" cy="150.7" r="1.07" fill="#b8b8b8"/><circle cx="143.3" cy="156.0" r="0.80" fill="#6a6a6a"/><circle cx="133.6" cy="148.1" r="0.88" fill="#555"/><circle cx="69.1" cy="149.4" r="0.60" fill="#555"/><circle cx="138.2" cy="153.2" r="0.79" fill="#6a6a6a"/><circle cx="139.2" cy="157.9" r="1.00" fill="#b8b8b8"/><circle cx="73.0" cy="147.1" r="0.84" fill="#6a6a6a"/><circle cx="58.2" cy="151.3" r="0.54" fill="#555"/><circle cx="123.5" cy="145.2" r="0.79" fill="#555"/><circle cx="65.9" cy="152.0" r="0.86" fill="#808080"/><circle cx="139.2" cy="155.8" r="0.91" fill="#b8b8b8"/><circle cx="88.3" cy="154.4" r="0.72" fill="#555"/><circle cx="93.3" cy="147.2" r="0.54" fill="#6a6a6a"/><circle cx="106.5" cy="146.9" r="0.63" fill="#6a6a6a"/><circle cx="118.0" cy="144.0" r="0.54" fill="#6a6a6a"/><circle cx="132.5" cy="144.2" r="0.64" fill="#c8c8c8"/><circle cx="70.6" cy="145.2" r="1.06" fill="#555"/><circle cx="105.3" cy="147.1" r="0.78" fill="#c8c8c8"/><circle cx="68.3" cy="144.6" r="0.76" fill="#c8c8c8"/><circle cx="89.5" cy="157.7" r="0.53" fill="#6a6a6a"/><circle cx="55.8" cy="155.4" r="0.98" fill="#6a6a6a"/><circle cx="73.9" cy="146.2" r="0.77" fill="#c8c8c8"/><circle cx="67.6" cy="150.9" r="1.02" fill="#6a6a6a"/><circle cx="92.5" cy="157.6" r="0.83" fill="#6a6a6a"/><circle cx="112.6" cy="152.2" r="0.51" fill="#6a6a6a"/><circle cx="138.9" cy="157.4" r="0.60" fill="#c8c8c8"/><circle cx="96.2" cy="157.7" r="1.04" fill="#808080"/><circle cx="86.4" cy="159.8" r="0.66" fill="#c8c8c8"/><circle cx="77.4" cy="154.8" r="0.94" fill="#555"/><circle cx="113.5" cy="151.3" r="0.61" fill="#808080"/><circle cx="143.0" cy="152.8" r="0.83" fill="#b8b8b8"/><circle cx="55.5" cy="152.9" r="0.80" fill="#555"/><circle cx="65.1" cy="159.3" r="0.55" fill="#808080"/><circle cx="56.6" cy="144.2" r="1.02" fill="#c8c8c8"/><circle cx="61.5" cy="158.1" r="0.65" fill="#555"/><circle cx="53.8" cy="144.4" r="0.89" fill="#555"/><circle cx="100.2" cy="158.9" r="0.62" fill="#b8b8b8"/><circle cx="72.9" cy="149.7" r="0.90" fill="#b8b8b8"/><circle cx="93.9" cy="158.8" r="1.06" fill="#6a6a6a"/><circle cx="94.0" cy="160.0" r="1.10" fill="#6a6a6a"/><circle cx="101.6" cy="151.6" r="0.58" fill="#b8b8b8"/><circle cx="134.6" cy="157.9" r="0.72" fill="#808080"/><path d="M76,143 h17 v15 h-17z" fill="#d6cfc0"/><path d="M108,141 l7,-2.5 l8,3 v16 h-15z" fill="#d2cbbc"/><circle cx="83.4" cy="151.1" r="0.55" fill="#9a9080"/><circle cx="87.4" cy="151.3" r="0.87" fill="#9a9080"/><circle cx="92.0" cy="145.0" r="0.46" fill="#9a9080"/><circle cx="88.6" cy="145.3" r="0.54" fill="#f2ece0"/><circle cx="88.2" cy="146.1" r="0.72" fill="#7a746b"/><circle cx="84.6" cy="146.8" r="0.85" fill="#9a9080"/><circle cx="77.6" cy="149.4" r="0.54" fill="#9a9080"/><circle cx="81.7" cy="145.0" r="0.89" fill="#f2ece0"/><circle cx="88.6" cy="151.3" r="0.61" fill="#9a9080"/><circle cx="77.9" cy="157.2" r="0.75" fill="#f2ece0"/><circle cx="85.3" cy="155.5" r="0.69" fill="#f2ece0"/><circle cx="83.3" cy="143.6" r="0.58" fill="#9a9080"/><circle cx="91.3" cy="146.2" r="0.52" fill="#9a9080"/><circle cx="82.0" cy="151.4" r="0.84" fill="#f2ece0"/><circle cx="91.7" cy="146.6" r="0.48" fill="#f2ece0"/><circle cx="91.0" cy="143.4" r="0.77" fill="#7a746b"/><circle cx="89.3" cy="149.2" r="0.73" fill="#f2ece0"/><circle cx="80.5" cy="154.8" r="0.45" fill="#9a9080"/><circle cx="90.6" cy="146.3" r="0.81" fill="#fffaf0"/><circle cx="81.9" cy="155.3" r="0.84" fill="#f2ece0"/><circle cx="76.4" cy="145.9" r="0.56" fill="#9a9080"/><circle cx="92.4" cy="147.2" r="0.72" fill="#fffaf0"/><circle cx="87.6" cy="155.7" r="0.57" fill="#9a9080"/><circle cx="78.0" cy="157.6" r="0.49" fill="#7a746b"/><circle cx="76.7" cy="151.9" r="0.57" fill="#7a746b"/><circle cx="83.4" cy="157.8" r="0.46" fill="#f2ece0"/><circle cx="80.3" cy="153.6" r="0.40" fill="#f2ece0"/><circle cx="82.2" cy="144.0" r="0.73" fill="#7a746b"/><circle cx="86.6" cy="153.0" r="0.46" fill="#7a746b"/><circle cx="84.6" cy="153.0" r="0.56" fill="#7a746b"/><circle cx="85.4" cy="145.9" r="0.73" fill="#fffaf0"/><circle cx="87.5" cy="156.5" r="0.71" fill="#7a746b"/><circle cx="82.9" cy="155.5" r="0.55" fill="#f2ece0"/><circle cx="83.3" cy="151.7" r="0.73" fill="#fffaf0"/><circle cx="83.5" cy="153.1" r="0.66" fill="#f2ece0"/><circle cx="87.2" cy="147.3" r="0.73" fill="#7a746b"/><circle cx="77.6" cy="157.3" r="0.52" fill="#7a746b"/><circle cx="79.8" cy="146.0" r="0.41" fill="#f2ece0"/><circle cx="92.7" cy="152.2" r="0.78" fill="#fffaf0"/><circle cx="83.0" cy="152.4" r="0.50" fill="#fffaf0"/><circle cx="84.4" cy="146.7" r="0.73" fill="#9a9080"/><circle cx="91.2" cy="155.9" r="0.84" fill="#fffaf0"/><circle cx="79.7" cy="155.1" r="0.75" fill="#fffaf0"/><circle cx="76.9" cy="146.7" r="0.82" fill="#fffaf0"/><circle cx="78.3" cy="150.0" r="0.67" fill="#7a746b"/><circle cx="122.3" cy="156.0" r="0.71" fill="#fffaf0"/><circle cx="120.5" cy="149.9" r="0.85" fill="#fffaf0"/><circle cx="114.8" cy="153.5" r="0.82" fill="#7a746b"/><circle cx="119.5" cy="149.4" r="0.71" fill="#7a746b"/><circle cx="114.6" cy="152.8" r="0.52" fill="#7a746b"/><circle cx="112.8" cy="149.7" r="0.47" fill="#f2ece0"/><circle cx="113.7" cy="142.8" r="0.51" fill="#fffaf0"/><circle cx="114.1" cy="149.8" r="0.61" fill="#f2ece0"/><circle cx="120.5" cy="147.0" r="0.78" fill="#9a9080"/><circle cx="120.9" cy="153.8" r="0.59" fill="#9a9080"/><circle cx="122.1" cy="145.4" r="0.59" fill="#fffaf0"/><circle cx="116.1" cy="153.2" r="0.80" fill="#f2ece0"/><circle cx="115.3" cy="144.9" r="0.64" fill="#fffaf0"/><circle cx="113.0" cy="152.2" r="0.60" fill="#f2ece0"/><circle cx="120.6" cy="156.6" r="0.89" fill="#9a9080"/><circle cx="121.6" cy="150.7" r="0.73" fill="#9a9080"/><circle cx="117.6" cy="142.4" r="0.63" fill="#9a9080"/><circle cx="111.9" cy="145.9" r="0.63" fill="#7a746b"/><circle cx="119.4" cy="146.8" r="0.78" fill="#fffaf0"/><circle cx="111.8" cy="141.5" r="0.41" fill="#9a9080"/><circle cx="123.0" cy="146.3" r="0.73" fill="#9a9080"/><circle cx="119.3" cy="157.1" r="0.50" fill="#9a9080"/><circle cx="117.3" cy="144.3" r="0.64" fill="#9a9080"/><circle cx="116.5" cy="143.9" r="0.75" fill="#7a746b"/><circle cx="110.5" cy="150.9" r="0.77" fill="#9a9080"/><circle cx="119.7" cy="142.9" r="0.56" fill="#9a9080"/><circle cx="121.9" cy="150.4" r="0.85" fill="#fffaf0"/><circle cx="113.9" cy="152.9" r="0.44" fill="#f2ece0"/><circle cx="109.5" cy="153.9" r="0.83" fill="#9a9080"/><circle cx="119.9" cy="150.2" r="0.42" fill="#fffaf0"/><circle cx="117.9" cy="141.2" r="0.72" fill="#9a9080"/><circle cx="120.7" cy="154.8" r="0.45" fill="#7a746b"/><circle cx="117.5" cy="154.9" r="0.75" fill="#fffaf0"/><circle cx="110.6" cy="149.4" r="0.73" fill="#fffaf0"/><circle cx="115.0" cy="154.9" r="0.70" fill="#7a746b"/><circle cx="120.8" cy="155.0" r="0.44" fill="#fffaf0"/><circle cx="111.7" cy="148.4" r="0.71" fill="#fffaf0"/><circle cx="113.0" cy="148.9" r="0.56" fill="#fffaf0"/><circle cx="111.2" cy="154.4" r="0.57" fill="#7a746b"/><circle cx="116.3" cy="149.3" r="0.50" fill="#f2ece0"/><circle cx="118.8" cy="148.8" r="0.78" fill="#fffaf0"/><circle cx="117.7" cy="148.8" r="0.80" fill="#9a9080"/><circle cx="112.4" cy="147.3" r="0.52" fill="#7a746b"/><circle cx="115.1" cy="149.6" r="0.61" fill="#7a746b"/><circle cx="113.3" cy="148.2" r="0.55" fill="#f2ece0"/><path d="M94,145 h13 v13 h-13z" fill="#b4b4b4"/><path d="M97,145v13M100.5,145v13M104,145v13" stroke="#7a7a7a" stroke-width="0.9"/><path d="M65.5,152 l4,0.5 l0.5,5 l-4.5,0z" fill="#1a1a1a"/><path d="M128,150 l6,1 l1.5,6 l-7.5,0z" fill="#2a2a2a"/></g><path d="M121,31 L124.8,31 L124.6,105 L122.5,105Z" fill="#000" opacity="0.85"/><path d="M119,150 L124,150 L124,168 L119,168Z" fill="#000" opacity="0.8"/><g stroke="#b65a5e" stroke-width="1.1" fill="none"><path d="M75.2,34.2V163M124.2,31.5V165M68.9,37.3V48.3M117.6,32.9V47.7M69.5,155V165M118.6,157V167"/></g><path d="M73,73.8h7M120,72l3,-3M122,72h6" stroke="#c46262" stroke-width="0.6"/><g fill="#22dd22"><circle cx="72.4" cy="35.4" r="1.3"/><circle cx="120.9" cy="31.9" r="1.3"/><circle cx="72.9" cy="164.3" r="1.3"/><circle cx="121.7" cy="166.2" r="1.3"/></g><rect x="148" y="177.6" width="7.8" height="3" fill="#fff"/><rect x="173.7" y="5.7" width="132.2" height="178.8" fill="#000"/><g clip-path="url(#ca2)"><path d="M242.4,14.7C248.8,14.7 255.4,16.8 260.7,19.5C266.0,22.2 270.0,26.2 274.2,31.0C278.4,35.8 282.8,42.3 285.8,48.4C288.9,54.5 291.1,61.3 292.5,67.7C293.9,74.1 294.4,80.5 294.4,86.9C294.4,93.3 293.5,100.4 292.5,106.2C291.5,112.0 289.1,117.4 288.6,121.6C288.1,125.8 289.8,126.7 289.6,131.2C289.5,135.7 289.0,144.1 287.7,148.6C286.4,153.1 284.8,155.3 281.9,158.2C279.0,161.1 275.1,163.3 270.3,165.9C265.5,168.5 256.5,171.3 253.0,173.6C249.5,175.8 251.7,178.4 249.1,179.4C246.5,180.4 240.2,180.4 237.6,179.4C235.0,178.4 237.2,175.8 233.7,173.6C230.2,171.3 221.5,168.5 216.4,165.9C211.3,163.3 206.1,161.7 202.9,158.2C199.7,154.7 198.6,149.2 197.1,144.7C195.6,140.2 194.5,135.0 194.2,131.2C193.9,127.3 195.8,125.4 195.2,121.6C194.6,117.8 191.7,113.5 190.4,108.1C189.1,102.6 187.8,95.3 187.5,88.9C187.2,82.5 187.2,76.3 188.5,69.6C189.8,62.8 192.1,54.8 195.2,48.4C198.2,42.0 202.3,35.8 206.8,31.0C211.3,26.2 216.3,22.2 222.2,19.5C228.1,16.8 236.0,14.7 242.4,14.7Z" fill="url(#a2v)"/><g fill="none" stroke="#000" stroke-opacity="0.16" stroke-width="0.65"><ellipse cx="242.5" cy="32.0" rx="3.0" ry="4.0" /><ellipse cx="242.5" cy="32.5" rx="4.6" ry="5.9" /><ellipse cx="242.5" cy="33.1" rx="6.2" ry="7.8" /><ellipse cx="242.5" cy="33.6" rx="7.9" ry="9.7" /><ellipse cx="242.5" cy="34.2" rx="9.5" ry="11.6" /><ellipse cx="242.5" cy="34.8" rx="11.1" ry="13.5" /><ellipse cx="242.5" cy="35.3" rx="12.7" ry="15.4" /><ellipse cx="242.5" cy="35.9" rx="14.3" ry="17.3" /><ellipse cx="242.5" cy="36.4" rx="16.0" ry="19.2" /><ellipse cx="242.5" cy="37.0" rx="17.6" ry="21.1" /><ellipse cx="242.5" cy="37.5" rx="19.2" ry="23.0" /><ellipse cx="242.5" cy="38.0" rx="20.8" ry="24.9" /><ellipse cx="242.5" cy="38.6" rx="22.4" ry="26.8" /><ellipse cx="242.5" cy="39.1" rx="24.1" ry="28.7" /><ellipse cx="242.5" cy="39.7" rx="25.7" ry="30.6" /><ellipse cx="242.5" cy="40.2" rx="27.3" ry="32.5" /><ellipse cx="242.5" cy="40.8" rx="28.9" ry="34.4" /><ellipse cx="242.5" cy="41.4" rx="30.5" ry="36.3" /><ellipse cx="242.5" cy="41.9" rx="32.2" ry="38.2" /><ellipse cx="242.5" cy="42.5" rx="33.8" ry="40.1" /><ellipse cx="242.5" cy="43.0" rx="35.4" ry="42.0" /><ellipse cx="242.5" cy="43.5" rx="37.0" ry="43.9" /><ellipse cx="242.5" cy="44.1" rx="38.6" ry="45.8" /><ellipse cx="242.5" cy="44.6" rx="40.3" ry="47.7" /><ellipse cx="242.5" cy="45.2" rx="41.9" ry="49.6" /><ellipse cx="242.5" cy="45.8" rx="43.5" ry="51.5" /><ellipse cx="242.5" cy="46.3" rx="45.1" ry="53.4" /><ellipse cx="242.5" cy="46.9" rx="46.7" ry="55.3" /><ellipse cx="242.5" cy="47.4" rx="48.4" ry="57.2" /><ellipse cx="242.5" cy="48.0" rx="50.0" ry="59.1" /><ellipse cx="242.5" cy="48.5" rx="51.6" ry="61.0" /><ellipse cx="242.5" cy="49.0" rx="53.2" ry="62.9" /><ellipse cx="242.5" cy="49.6" rx="54.8" ry="64.8" /><ellipse cx="242.5" cy="50.2" rx="56.5" ry="66.7" /><ellipse cx="242.5" cy="50.7" rx="58.1" ry="68.6" /><ellipse cx="242.5" cy="51.2" rx="59.7" ry="70.5" /><ellipse cx="242.5" cy="51.8" rx="61.3" ry="72.4" /><ellipse cx="242.5" cy="52.4" rx="62.9" ry="74.3" /><ellipse cx="242.5" cy="52.9" rx="64.6" ry="76.2" /><ellipse cx="242.5" cy="53.5" rx="66.2" ry="78.1" /><ellipse cx="242.5" cy="54.0" rx="67.8" ry="80.0" /><ellipse cx="242.5" cy="54.5" rx="69.4" ry="81.9" /><ellipse cx="242.5" cy="55.1" rx="71.0" ry="83.8" /><ellipse cx="242.5" cy="55.7" rx="72.7" ry="85.7" /><ellipse cx="242.5" cy="56.2" rx="74.3" ry="87.6" /><ellipse cx="242.5" cy="56.8" rx="75.9" ry="89.5" /><ellipse cx="242.5" cy="57.3" rx="77.5" ry="91.4" /><ellipse cx="242.5" cy="57.9" rx="79.1" ry="93.3" /><ellipse cx="242.5" cy="58.4" rx="80.8" ry="95.2" /><ellipse cx="242.5" cy="59.0" rx="82.4" ry="97.1" /><ellipse cx="242.5" cy="59.5" rx="84.0" ry="99.0" /><ellipse cx="242.5" cy="60.0" rx="85.6" ry="100.9" /><ellipse cx="242.5" cy="60.6" rx="87.2" ry="102.8" /><ellipse cx="242.5" cy="61.2" rx="88.9" ry="104.7" /><ellipse cx="242.5" cy="61.7" rx="90.5" ry="106.6" /><ellipse cx="242.5" cy="62.2" rx="92.1" ry="108.5" /><ellipse cx="242.5" cy="62.8" rx="93.7" ry="110.4" /><ellipse cx="242.5" cy="63.4" rx="95.3" ry="112.3" /><ellipse cx="242.5" cy="63.9" rx="97.0" ry="114.2" /><ellipse cx="242.5" cy="64.5" rx="98.6" ry="116.1" /><ellipse cx="242.5" cy="65.0" rx="100.2" ry="118.0" /><ellipse cx="242.5" cy="65.6" rx="101.8" ry="119.9" /><ellipse cx="242.5" cy="66.1" rx="103.4" ry="121.8" /><ellipse cx="242.5" cy="66.7" rx="105.1" ry="123.7" /><ellipse cx="242.5" cy="67.2" rx="106.7" ry="125.6" /><ellipse cx="242.5" cy="67.8" rx="108.3" ry="127.5" /><ellipse cx="242.5" cy="68.3" rx="109.9" ry="129.4" /><ellipse cx="242.5" cy="68.8" rx="111.5" ry="131.3" /><ellipse cx="242.5" cy="69.4" rx="113.2" ry="133.2" /><ellipse cx="242.5" cy="70.0" rx="114.8" ry="135.1" /><ellipse cx="242.5" cy="70.5" rx="116.4" ry="137.0" /><ellipse cx="242.5" cy="71.1" rx="118.0" ry="138.9" /><ellipse cx="242.5" cy="71.6" rx="119.6" ry="140.8" /><ellipse cx="242.5" cy="72.2" rx="121.3" ry="142.7" /><ellipse cx="242.5" cy="72.7" rx="122.9" ry="144.6" /></g><path d="M242.4,14.7C248.8,14.7 255.4,16.8 260.7,19.5C266.0,22.2 270.0,26.2 274.2,31.0C278.4,35.8 282.8,42.3 285.8,48.4C288.9,54.5 291.1,61.3 292.5,67.7C293.9,74.1 294.4,80.5 294.4,86.9C294.4,93.3 293.5,100.4 292.5,106.2C291.5,112.0 289.1,117.4 288.6,121.6C288.1,125.8 289.8,126.7 289.6,131.2C289.5,135.7 289.0,144.1 287.7,148.6C286.4,153.1 284.8,155.3 281.9,158.2C279.0,161.1 275.1,163.3 270.3,165.9C265.5,168.5 256.5,171.3 253.0,173.6C249.5,175.8 251.7,178.4 249.1,179.4C246.5,180.4 240.2,180.4 237.6,179.4C235.0,178.4 237.2,175.8 233.7,173.6C230.2,171.3 221.5,168.5 216.4,165.9C211.3,163.3 206.1,161.7 202.9,158.2C199.7,154.7 198.6,149.2 197.1,144.7C195.6,140.2 194.5,135.0 194.2,131.2C193.9,127.3 195.8,125.4 195.2,121.6C194.6,117.8 191.7,113.5 190.4,108.1C189.1,102.6 187.8,95.3 187.5,88.9C187.2,82.5 187.2,76.3 188.5,69.6C189.8,62.8 192.1,54.8 195.2,48.4C198.2,42.0 202.3,35.8 206.8,31.0C211.3,26.2 216.3,22.2 222.2,19.5C228.1,16.8 236.0,14.7 242.4,14.7Z" fill="url(#sideDarkL)"/><ellipse cx="242" cy="162" rx="44" ry="20" fill="url(#glow)"/><path d="M196,122 Q199,135 201,150 L203,150 Q201,135 199,121Z" fill="#000" opacity="0.9"/><path d="M288,121 Q285,135 283,149 L285,149 Q288,135 290,121Z" fill="#000" opacity="0.9"/></g><path d="M242.5,22V170" stroke="#000" stroke-opacity="0.12" stroke-width="0.6" stroke-dasharray="1,1"/><g font-size="2.6" fill="#555" opacity="0.9"><text transform="translate(235,26) rotate(90)">Bregma +2</text><text transform="translate(240.5,26) rotate(90)">Bregma 0</text><text transform="translate(246,26) rotate(90)">Bregma -2</text><text transform="translate(235,105) rotate(90)">Bregma +2</text><text transform="translate(240.5,105) rotate(90)">Bregma 0</text><text transform="translate(246,105) rotate(90)">Bregma -2</text><text x="197" y="102.5">Right -2</text><text x="199" y="106.5">Right 0</text><text x="197" y="110.5">Right -2</text><text x="273" y="102.5">Left +2</text><text x="273" y="106.5">Left 0</text><text x="273" y="110.5">Left -2</text></g><g fill="#e02828"><rect x="233.3" y="15.6" width="17.8" height="6.2"/><rect x="234.9" y="95.6" width="16.9" height="5.8"/><rect x="214.8" y="100.8" width="6" height="9.2"/><rect x="265.7" y="99.8" width="5.6" height="9.3"/></g><g stroke="#300" stroke-width="0.5"><path d="M235,18.7h15M236.5,98.5h14M217.8,102v7M268.5,101v7"/></g><rect x="292" y="177.6" width="7.8" height="3" fill="#fff"/><rect x="317.7" y="5.7" width="131.6" height="178.8" fill="#000"/><g clip-path="url(#ca3)"><path d="M385.4,36.8C393.1,36.3 402.2,38.5 408.6,40.7C415.0,43.0 420.0,46.4 424.0,50.3C428.0,54.1 430.5,59.0 432.6,63.8C434.7,68.6 435.7,74.1 436.5,79.2C437.3,84.3 437.5,88.8 437.5,94.6C437.5,100.4 437.1,108.1 436.5,113.9C435.9,119.7 435.4,124.8 433.6,129.3C431.8,133.8 428.5,138.5 425.9,140.9C423.3,143.3 422.7,142.8 418.2,143.8C413.7,144.8 404.4,145.9 398.9,146.7C393.4,147.5 391.2,148.1 385.4,148.6C379.6,149.1 369.0,150.2 364.2,149.5C359.4,148.8 360.0,145.5 356.5,144.7C353.0,143.9 346.2,145.3 343.0,144.7C339.8,144.1 338.9,143.2 337.3,140.9C335.7,138.7 334.5,135.0 333.4,131.2C332.3,127.3 331.0,122.6 330.5,117.8C330.0,113.0 330.3,108.1 330.5,102.3C330.7,96.5 330.5,89.2 331.5,83.1C332.5,77.0 334.1,70.5 336.3,65.7C338.6,60.9 340.7,57.9 345.0,54.2C349.3,50.5 355.6,46.5 362.3,43.6C369.0,40.7 377.7,37.3 385.4,36.8Z" fill="url(#a3v)"/><g fill="none" stroke="#000" stroke-opacity="0.2" stroke-width="0.7" clip-path="url(#ca3top)"><ellipse cx="385" cy="98.0" rx="8.0" ry="5.0"/><ellipse cx="385" cy="97.8" rx="10.0" ry="6.8"/><ellipse cx="385" cy="97.5" rx="12.0" ry="8.5"/><ellipse cx="385" cy="97.2" rx="14.0" ry="10.2"/><ellipse cx="385" cy="97.0" rx="16.0" ry="12.0"/><ellipse cx="385" cy="96.8" rx="18.0" ry="13.8"/><ellipse cx="385" cy="96.5" rx="20.0" ry="15.5"/><ellipse cx="385" cy="96.2" rx="22.0" ry="17.2"/><ellipse cx="385" cy="96.0" rx="24.0" ry="19.0"/><ellipse cx="385" cy="95.8" rx="26.0" ry="20.8"/><ellipse cx="385" cy="95.5" rx="28.0" ry="22.5"/><ellipse cx="385" cy="95.2" rx="30.0" ry="24.2"/><ellipse cx="385" cy="95.0" rx="32.0" ry="26.0"/><ellipse cx="385" cy="94.8" rx="34.0" ry="27.8"/><ellipse cx="385" cy="94.5" rx="36.0" ry="29.5"/><ellipse cx="385" cy="94.2" rx="38.0" ry="31.2"/><ellipse cx="385" cy="94.0" rx="40.0" ry="33.0"/><ellipse cx="385" cy="93.8" rx="42.0" ry="34.8"/><ellipse cx="385" cy="93.5" rx="44.0" ry="36.5"/><ellipse cx="385" cy="93.2" rx="46.0" ry="38.2"/><ellipse cx="385" cy="93.0" rx="48.0" ry="40.0"/><ellipse cx="385" cy="92.8" rx="50.0" ry="41.8"/><ellipse cx="385" cy="92.5" rx="52.0" ry="43.5"/><ellipse cx="385" cy="92.2" rx="54.0" ry="45.2"/><ellipse cx="385" cy="92.0" rx="56.0" ry="47.0"/><ellipse cx="385" cy="91.8" rx="58.0" ry="48.8"/><ellipse cx="385" cy="91.5" rx="60.0" ry="50.5"/><ellipse cx="385" cy="91.2" rx="62.0" ry="52.2"/><ellipse cx="385" cy="91.0" rx="64.0" ry="54.0"/><ellipse cx="385" cy="90.8" rx="66.0" ry="55.8"/><ellipse cx="385" cy="90.5" rx="68.0" ry="57.5"/><ellipse cx="385" cy="90.2" rx="70.0" ry="59.2"/><ellipse cx="385" cy="90.0" rx="72.0" ry="61.0"/><ellipse cx="385" cy="89.8" rx="74.0" ry="62.8"/><ellipse cx="385" cy="89.5" rx="76.0" ry="64.5"/><ellipse cx="385" cy="89.2" rx="78.0" ry="66.2"/><ellipse cx="385" cy="89.0" rx="80.0" ry="68.0"/><ellipse cx="385" cy="88.8" rx="82.0" ry="69.8"/><ellipse cx="385" cy="88.5" rx="84.0" ry="71.5"/><ellipse cx="385" cy="88.2" rx="86.0" ry="73.2"/></g><path d="M385.4,36.8C393.1,36.3 402.2,38.5 408.6,40.7C415.0,43.0 420.0,46.4 424.0,50.3C428.0,54.1 430.5,59.0 432.6,63.8C434.7,68.6 435.7,74.1 436.5,79.2C437.3,84.3 437.5,88.8 437.5,94.6C437.5,100.4 437.1,108.1 436.5,113.9C435.9,119.7 435.4,124.8 433.6,129.3C431.8,133.8 428.5,138.5 425.9,140.9C423.3,143.3 422.7,142.8 418.2,143.8C413.7,144.8 404.4,145.9 398.9,146.7C393.4,147.5 391.2,148.1 385.4,148.6C379.6,149.1 369.0,150.2 364.2,149.5C359.4,148.8 360.0,145.5 356.5,144.7C353.0,143.9 346.2,145.3 343.0,144.7C339.8,144.1 338.9,143.2 337.3,140.9C335.7,138.7 334.5,135.0 333.4,131.2C332.3,127.3 331.0,122.6 330.5,117.8C330.0,113.0 330.3,108.1 330.5,102.3C330.7,96.5 330.5,89.2 331.5,83.1C332.5,77.0 334.1,70.5 336.3,65.7C338.6,60.9 340.7,57.9 345.0,54.2C349.3,50.5 355.6,46.5 362.3,43.6C369.0,40.7 377.7,37.3 385.4,36.8Z" fill="url(#sideDark)" opacity="0.85"/><ellipse cx="385" cy="113" rx="34" ry="11" fill="url(#glow)"/><path d="M381,82 L372,86 L366,91 L358,95 L352,101 L346,107 L343,113 L339,118 L337,126" stroke="#6a6a6a" stroke-width="1.3" fill="none" stroke-dasharray="1.1,0.7"/><path d="M381,83 L372,87 L366,92 L358,96 L352,102 L346,108 L343,114 L339,119 L337,127" stroke="#eee" stroke-width="0.6" fill="none" stroke-dasharray="0.8,1"/><path d="M394,82 L404,86 L411,89 L418,94 L424,99 L427,106 L428,114 L429,122" stroke="#6a6a6a" stroke-width="1.3" fill="none" stroke-dasharray="1.1,0.7"/><path d="M394,83 L404,87 L411,90 L418,95 L424,100 L427,107 L428,115 L429,123" stroke="#eee" stroke-width="0.6" fill="none" stroke-dasharray="0.8,1"/><path d="M375,132 Q385,126 395,134" stroke="#000" stroke-opacity="0.18" stroke-width="3" fill="none" filter="url(#bl1)"/></g><ellipse cx="380.6" cy="153.3" rx="14.5" ry="2.2" fill="#e6e6e6"/><circle cx="337.5" cy="141" r="2" fill="#bbb"/><circle cx="365" cy="146" r="2.2" fill="#aaa"/><circle cx="398" cy="146" r="2" fill="#aaa"/><g font-size="2.6" fill="#555"><text transform="translate(380,82) rotate(-90)" text-anchor="end">Lambda +2</text><text transform="translate(386,82) rotate(-90)" text-anchor="end">Lambda 0</text><text transform="translate(392,82) rotate(-90)" text-anchor="end">Lambda -2</text><text transform="translate(380,114) rotate(-90)" text-anchor="end">Mid-occipital +5</text><text transform="translate(386,114) rotate(-90)" text-anchor="end">Mid-occipital 0</text><text transform="translate(392,114) rotate(-90)" text-anchor="end">Mid-occipital -5</text></g><g><rect x="378.7" y="73.8" width="17.7" height="6.2" fill="#d82830"/><rect x="378.7" y="106.2" width="17.7" height="6.2" fill="#f04858"/></g><g stroke="#300" stroke-width="0.5"><path d="M380,76.9h15M380,109.3h15"/></g><rect x="435.5" y="176.5" width="7.8" height="3" fill="#fff"/><rect x="476.3" y="27.1" width="183.6" height="135.4" fill="#000"/><path d="M481.0,150.0C480.8,146.3 479.8,135.5 480.0,128.0C480.2,120.5 480.5,111.3 482.0,105.0C483.5,98.7 486.3,94.5 489.0,90.0C491.7,85.5 494.7,82.0 498.0,78.0C501.3,74.0 505.2,69.5 509.0,66.0C512.8,62.5 514.8,60.8 521.0,57.0C527.2,53.2 538.2,47.3 546.0,43.5C553.8,39.7 561.8,36.0 568.0,34.0C574.2,32.0 578.0,31.6 583.0,31.5C588.0,31.4 593.2,32.2 598.0,33.5C602.8,34.8 606.8,37.5 612.0,39.5C617.2,41.5 624.4,42.7 629.5,45.6C634.6,48.5 639.3,52.5 642.4,57.0C645.5,61.5 646.6,67.1 648.0,72.8C649.4,78.5 650.8,85.7 651.0,91.4C651.2,97.1 650.5,102.2 649.5,107.0C648.5,111.8 646.5,115.5 645.3,120.0C644.1,124.5 643.4,128.1 642.4,134.3C641.4,140.5 640.0,153.2 639.5,157.0" fill="none" stroke="#3a3a3a" stroke-width="1" filter="url(#bl05)"/><path d="M640,112 L646,122 L643,140 L640,157 L606,157 L612,146 L624,132 L634,120Z" fill="#2a2a2a" filter="url(#bl1)"/><path d="M493.2,157.2C492.5,155.8 490.3,152.4 488.9,148.6C487.5,144.8 485.4,139.1 484.6,134.3C483.8,129.5 483.5,124.8 483.9,120.0C484.2,115.2 485.1,110.2 486.7,105.7C488.2,101.2 490.7,96.8 493.2,92.8C495.7,88.8 498.7,85.2 501.8,81.4C504.9,77.6 508.2,73.2 511.8,69.9C515.4,66.6 519.6,63.8 523.2,61.3C526.8,58.8 529.2,57.3 533.2,54.9C537.2,52.5 541.7,50.0 547.5,47.0C553.3,44.0 562.2,39.3 568.0,37.2C573.8,35.1 577.5,34.4 582.3,34.2C587.1,34.1 591.8,34.9 596.6,36.3C601.4,37.7 606.6,40.4 610.9,42.7C615.2,45.0 619.1,47.8 622.4,49.9C625.7,52.0 628.3,52.5 630.9,55.6C633.5,58.7 636.2,64.2 638.1,68.5C640.0,72.8 641.6,77.6 642.4,81.4C643.2,85.2 643.2,87.6 643.1,91.4C643.0,95.2 642.5,100.5 641.7,104.3C640.9,108.1 640.1,111.0 638.1,114.3C636.1,117.6 632.6,120.7 629.5,124.3C626.4,127.9 622.6,132.8 619.5,135.7C616.4,138.5 613.1,139.0 610.9,141.4C608.6,143.8 607.1,147.4 606.0,150.0C604.9,152.6 604.3,155.8 604.0,157.0Z" fill="#f2f2f2" filter="url(#bl05)"/><path d="M632,62 Q638,78 637.5,95 Q636,108 630,116" stroke="#b0b0b0" stroke-width="1.6" fill="none" filter="url(#bl05)"/><path d="M497.5,135.7C497.0,134.3 495.1,130.4 494.6,127.1C494.1,123.8 494.1,120.0 494.6,115.7C495.1,111.4 496.1,105.9 497.5,101.4C498.9,96.9 500.8,92.3 503.2,88.5C505.6,84.7 508.5,81.6 511.8,78.5C515.1,75.4 519.6,72.5 523.2,69.9C526.8,67.3 529.2,65.2 533.2,62.8C537.2,60.4 541.7,58.5 547.5,55.6C553.3,52.7 562.2,47.5 568.0,45.6C573.8,43.7 577.5,44.1 582.3,44.2C587.1,44.3 591.8,45.0 596.6,46.3C601.4,47.6 606.9,50.0 610.9,52.0C614.9,54.0 618.3,56.2 620.9,58.5C623.5,60.8 625.0,62.7 626.7,65.6C628.4,68.4 630.0,71.8 630.9,75.6C631.8,79.4 632.4,84.2 632.4,88.5C632.4,92.8 632.1,97.8 630.9,101.4C629.7,105.0 626.9,107.4 625.2,110.0C623.5,112.6 622.6,114.2 620.9,117.1C619.2,119.9 617.0,123.3 615.2,127.1C613.4,130.9 611.9,135.0 610.2,140.0C608.5,145.0 613.4,154.2 605.0,157.0C596.6,159.8 574.2,157.0 560.0,157.0C545.8,157.0 530.0,159.0 520.0,157.0C510.0,155.0 503.3,147.0 500.0,145.0Z" fill="#2c2c2c" filter="url(#bl05)"/><path d="M497.5,135.7 Q505,139 515,138 L535,134 L545,131 L558,134 L580,138 L598,146 L604,157 L492,157Z" fill="#232323"/><path d="M486,135 Q487,148 492,157 L499,157 Q494,148 493,136Z" fill="#e0e0e0" filter="url(#bl05)"/><g fill="#000"><ellipse cx="493" cy="138.5" rx="2.6" ry="4"/><ellipse cx="499.5" cy="145" rx="2.5" ry="2.2"/><ellipse cx="507" cy="150" rx="2.2" ry="4"/><ellipse cx="513" cy="149" rx="2" ry="5"/><ellipse cx="519" cy="147" rx="2" ry="5"/><ellipse cx="525" cy="146" rx="2" ry="5"/><ellipse cx="531" cy="144" rx="2" ry="4.5"/></g><g fill="#6a6a6a"><rect x="502.5" y="141" width="1.6" height="16"/><rect x="509.5" y="141" width="1.4" height="16"/><rect x="515.7" y="140" width="1.4" height="17"/><rect x="521.8" y="139" width="1.4" height="18"/><rect x="528" y="138" width="1.4" height="18"/></g><path d="M537.5,134 Q541,129.5 546,133 Q551,129 556,134 L556,146 Q546,149 537.5,146Z" fill="#000"/><path d="M556,136 L570,138 L580,143 L583,150 L558,149Z" fill="#6a6a6a" filter="url(#bl05)"/><path d="M556,136.5 L570,138.5 L581,144" stroke="#c8c8c8" stroke-width="0.9" fill="none"/><path d="M545,150 L585,151" stroke="#8a8a8a" stroke-width="0.9"/><path d="M568,150 L576,149 L578,157 L568,157Z" fill="#bbb" opacity="0.7"/><rect x="476.3" y="157.5" width="183.6" height="5" fill="#000"/><g font-size="8.3" fill="#c81818"><text x="485.4" y="59.2">Bregma 0</text><text x="582.9" y="67.8">Lambda 0</text><text x="600.1" y="86.6">Mid-</text><text x="588.3" y="97.4">occipital 0</text></g><g stroke="#e01818" stroke-width="0.8"><path d="M522.9,61.4L528.4,66.8M623.2,62.7L633.1,57.1M633.1,89.6H643.9"/></g><rect x="647" y="152" width="8.9" height="3.4" fill="#fff"/><text x="473" y="9.9" font-size="13.8" font-weight="bold" fill="#000">b</text><text x="-0.5" y="9.9" font-size="13.8" font-weight="bold" fill="#000">a</text>
</svg></body></html>
